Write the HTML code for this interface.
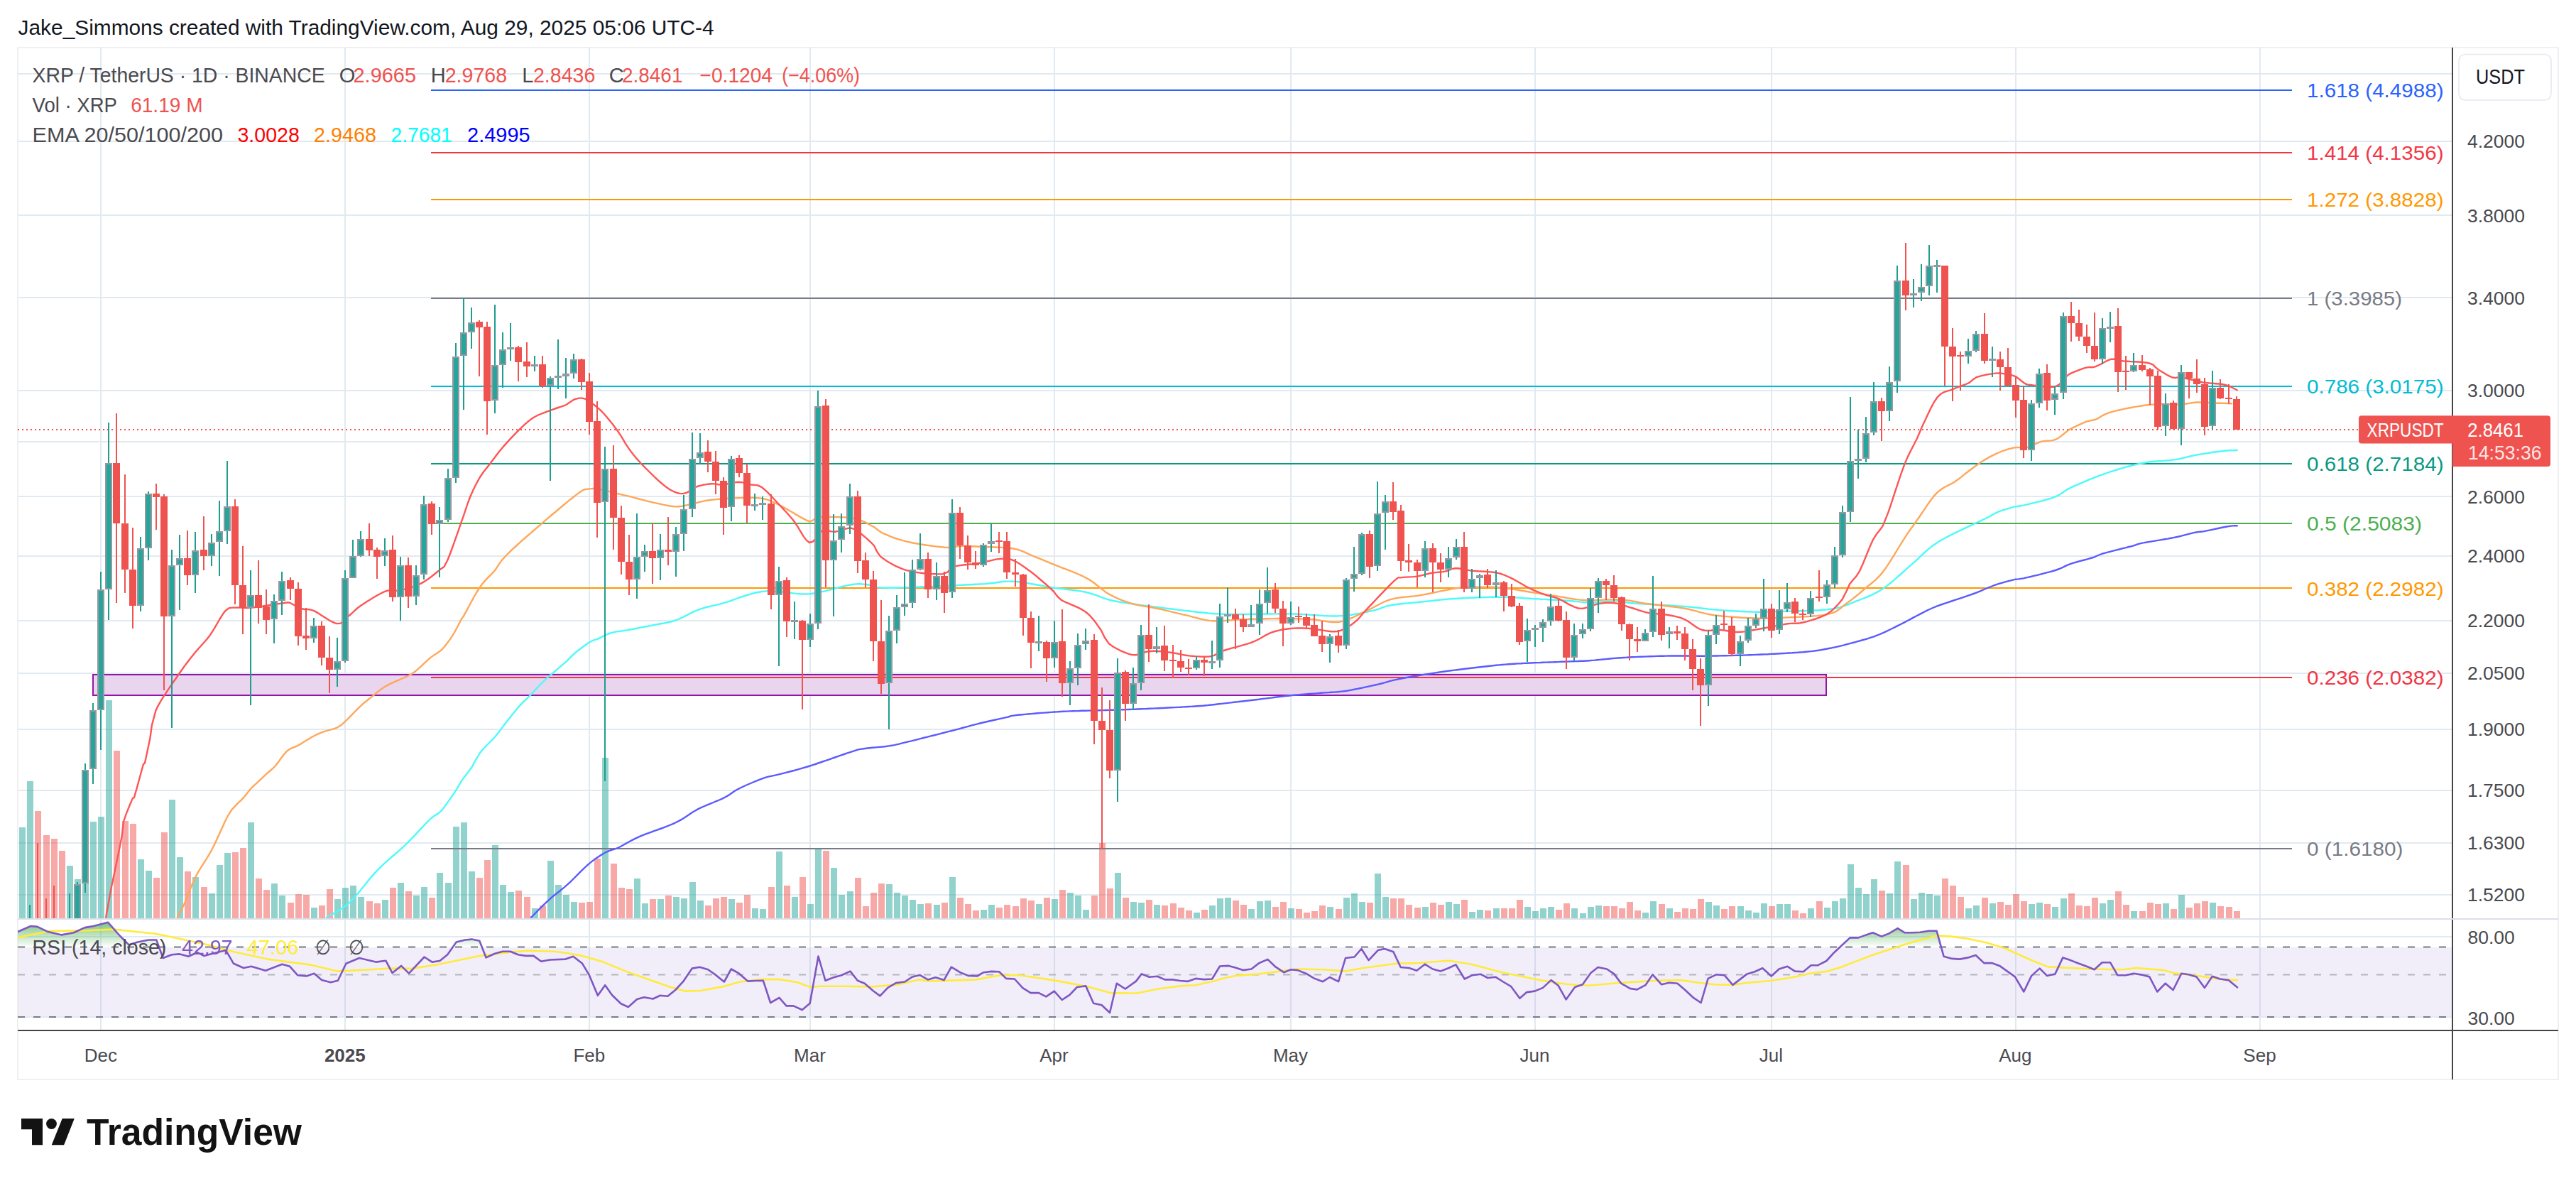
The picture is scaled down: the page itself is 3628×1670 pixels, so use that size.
<!DOCTYPE html><html><head><meta charset="utf-8"><title>XRPUSDT chart</title><style>html,body{margin:0;padding:0;background:#fff;}body{width:3628px;height:1670px;overflow:hidden;}svg{display:block;}</style></head><body><svg width="3628" height="1670" viewBox="0 0 3628 1670" font-family='"Liberation Sans", sans-serif'>
<rect width="3628" height="1670" fill="#ffffff"/>
<defs><clipPath id="main"><rect x="25" y="67" width="3428" height="1226"/></clipPath><clipPath id="rsi"><rect x="25" y="1295" width="3428" height="155"/></clipPath><linearGradient id="gfill" gradientUnits="userSpaceOnUse" x1="0" y1="1296" x2="0" y2="1334"><stop offset="0" stop-color="#4caf50" stop-opacity="0.78"/><stop offset="1" stop-color="#4caf50" stop-opacity="0"/></linearGradient></defs>
<text x="25.6" y="48.9" font-size="29" fill="#131722" textLength="980" lengthAdjust="spacingAndGlyphs">Jake_Simmons created with TradingView.com, Aug 29, 2025 05:06 UTC-4</text>
<rect x="25" y="67" width="3578" height="1453" fill="none" stroke="#f0f0f2" stroke-width="2" shape-rendering="crispEdges"/>
<g fill="#e1eaf1" shape-rendering="crispEdges">
<rect x="25" y="103" width="3429" height="2"/>
<rect x="25" y="198" width="3429" height="2"/>
<rect x="25" y="302" width="3429" height="2"/>
<rect x="25" y="418" width="3429" height="2"/>
<rect x="25" y="549" width="3429" height="2"/>
<rect x="25" y="621" width="3429" height="2"/>
<rect x="25" y="698" width="3429" height="2"/>
<rect x="25" y="782" width="3429" height="2"/>
<rect x="25" y="873" width="3429" height="2"/>
<rect x="25" y="947" width="3429" height="2"/>
<rect x="25" y="1026" width="3429" height="2"/>
<rect x="25" y="1112" width="3429" height="2"/>
<rect x="25" y="1186" width="3429" height="2"/>
<rect x="25" y="1259" width="3429" height="2"/>
<rect x="25" y="1318" width="3429" height="2"/>
<rect x="25" y="1431" width="3429" height="2"/>
<rect x="141" y="67" width="2" height="1384"/>
<rect x="485" y="67" width="2" height="1384"/>
<rect x="829" y="67" width="2" height="1384"/>
<rect x="1140" y="67" width="2" height="1384"/>
<rect x="1484" y="67" width="2" height="1384"/>
<rect x="1817" y="67" width="2" height="1384"/>
<rect x="2161" y="67" width="2" height="1384"/>
<rect x="2494" y="67" width="2" height="1384"/>
<rect x="2838" y="67" width="2" height="1384"/>
<rect x="3182" y="67" width="2" height="1384"/>
</g>
<g clip-path="url(#main)">
<g shape-rendering="crispEdges">
<rect x="27" y="1165" width="9" height="128" fill="rgba(38,166,154,0.5)"/>
<rect x="38" y="1100" width="9" height="193" fill="rgba(38,166,154,0.5)"/>
<rect x="49" y="1142" width="9" height="151" fill="rgba(239,83,80,0.5)"/>
<rect x="61" y="1176" width="9" height="117" fill="rgba(239,83,80,0.5)"/>
<rect x="72" y="1181" width="9" height="112" fill="rgba(239,83,80,0.5)"/>
<rect x="83" y="1198" width="9" height="95" fill="rgba(239,83,80,0.5)"/>
<rect x="94" y="1219" width="9" height="74" fill="rgba(38,166,154,0.5)"/>
<rect x="105" y="1238" width="9" height="55" fill="rgba(38,166,154,0.5)"/>
<rect x="116" y="1120" width="9" height="173" fill="rgba(38,166,154,0.5)"/>
<rect x="127" y="1157" width="9" height="136" fill="rgba(38,166,154,0.5)"/>
<rect x="138" y="1150" width="9" height="143" fill="rgba(38,166,154,0.5)"/>
<rect x="149" y="986" width="9" height="307" fill="rgba(38,166,154,0.5)"/>
<rect x="160" y="1057" width="9" height="236" fill="rgba(239,83,80,0.5)"/>
<rect x="172" y="1156" width="9" height="137" fill="rgba(239,83,80,0.5)"/>
<rect x="183" y="1160" width="9" height="133" fill="rgba(239,83,80,0.5)"/>
<rect x="194" y="1210" width="9" height="83" fill="rgba(38,166,154,0.5)"/>
<rect x="205" y="1226" width="9" height="67" fill="rgba(38,166,154,0.5)"/>
<rect x="216" y="1236" width="9" height="57" fill="rgba(239,83,80,0.5)"/>
<rect x="227" y="1172" width="9" height="121" fill="rgba(239,83,80,0.5)"/>
<rect x="238" y="1126" width="9" height="167" fill="rgba(38,166,154,0.5)"/>
<rect x="249" y="1207" width="9" height="86" fill="rgba(38,166,154,0.5)"/>
<rect x="260" y="1227" width="9" height="66" fill="rgba(239,83,80,0.5)"/>
<rect x="271" y="1235" width="9" height="58" fill="rgba(38,166,154,0.5)"/>
<rect x="283" y="1249" width="9" height="44" fill="rgba(239,83,80,0.5)"/>
<rect x="294" y="1258" width="9" height="35" fill="rgba(38,166,154,0.5)"/>
<rect x="305" y="1218" width="9" height="75" fill="rgba(38,166,154,0.5)"/>
<rect x="316" y="1201" width="9" height="92" fill="rgba(38,166,154,0.5)"/>
<rect x="327" y="1200" width="9" height="93" fill="rgba(239,83,80,0.5)"/>
<rect x="338" y="1194" width="9" height="99" fill="rgba(239,83,80,0.5)"/>
<rect x="349" y="1158" width="9" height="135" fill="rgba(38,166,154,0.5)"/>
<rect x="360" y="1237" width="9" height="56" fill="rgba(239,83,80,0.5)"/>
<rect x="371" y="1253" width="9" height="40" fill="rgba(239,83,80,0.5)"/>
<rect x="382" y="1244" width="9" height="49" fill="rgba(38,166,154,0.5)"/>
<rect x="393" y="1261" width="9" height="32" fill="rgba(38,166,154,0.5)"/>
<rect x="405" y="1271" width="9" height="22" fill="rgba(239,83,80,0.5)"/>
<rect x="416" y="1259" width="9" height="34" fill="rgba(239,83,80,0.5)"/>
<rect x="427" y="1260" width="9" height="33" fill="rgba(239,83,80,0.5)"/>
<rect x="438" y="1278" width="9" height="15" fill="rgba(38,166,154,0.5)"/>
<rect x="449" y="1275" width="9" height="18" fill="rgba(239,83,80,0.5)"/>
<rect x="460" y="1252" width="9" height="41" fill="rgba(239,83,80,0.5)"/>
<rect x="471" y="1266" width="9" height="27" fill="rgba(38,166,154,0.5)"/>
<rect x="482" y="1250" width="9" height="43" fill="rgba(38,166,154,0.5)"/>
<rect x="493" y="1247" width="9" height="46" fill="rgba(38,166,154,0.5)"/>
<rect x="504" y="1263" width="9" height="30" fill="rgba(38,166,154,0.5)"/>
<rect x="516" y="1269" width="9" height="24" fill="rgba(239,83,80,0.5)"/>
<rect x="527" y="1272" width="9" height="21" fill="rgba(239,83,80,0.5)"/>
<rect x="538" y="1267" width="9" height="26" fill="rgba(38,166,154,0.5)"/>
<rect x="549" y="1250" width="9" height="43" fill="rgba(239,83,80,0.5)"/>
<rect x="560" y="1243" width="9" height="50" fill="rgba(38,166,154,0.5)"/>
<rect x="571" y="1255" width="9" height="38" fill="rgba(239,83,80,0.5)"/>
<rect x="582" y="1261" width="9" height="32" fill="rgba(38,166,154,0.5)"/>
<rect x="593" y="1249" width="9" height="44" fill="rgba(38,166,154,0.5)"/>
<rect x="604" y="1264" width="9" height="29" fill="rgba(239,83,80,0.5)"/>
<rect x="615" y="1229" width="9" height="64" fill="rgba(38,166,154,0.5)"/>
<rect x="627" y="1243" width="9" height="50" fill="rgba(38,166,154,0.5)"/>
<rect x="638" y="1164" width="9" height="129" fill="rgba(38,166,154,0.5)"/>
<rect x="649" y="1158" width="9" height="135" fill="rgba(38,166,154,0.5)"/>
<rect x="660" y="1227" width="9" height="66" fill="rgba(38,166,154,0.5)"/>
<rect x="671" y="1236" width="9" height="57" fill="rgba(239,83,80,0.5)"/>
<rect x="682" y="1211" width="9" height="82" fill="rgba(239,83,80,0.5)"/>
<rect x="693" y="1190" width="9" height="103" fill="rgba(38,166,154,0.5)"/>
<rect x="704" y="1246" width="9" height="47" fill="rgba(38,166,154,0.5)"/>
<rect x="715" y="1256" width="9" height="37" fill="rgba(38,166,154,0.5)"/>
<rect x="726" y="1254" width="9" height="39" fill="rgba(239,83,80,0.5)"/>
<rect x="738" y="1263" width="9" height="30" fill="rgba(239,83,80,0.5)"/>
<rect x="749" y="1279" width="9" height="14" fill="rgba(38,166,154,0.5)"/>
<rect x="760" y="1275" width="9" height="18" fill="rgba(239,83,80,0.5)"/>
<rect x="771" y="1212" width="9" height="81" fill="rgba(38,166,154,0.5)"/>
<rect x="782" y="1246" width="9" height="47" fill="rgba(38,166,154,0.5)"/>
<rect x="793" y="1260" width="9" height="33" fill="rgba(38,166,154,0.5)"/>
<rect x="804" y="1270" width="9" height="23" fill="rgba(38,166,154,0.5)"/>
<rect x="815" y="1271" width="9" height="22" fill="rgba(239,83,80,0.5)"/>
<rect x="826" y="1270" width="9" height="23" fill="rgba(239,83,80,0.5)"/>
<rect x="837" y="1209" width="9" height="84" fill="rgba(239,83,80,0.5)"/>
<rect x="848" y="1067" width="9" height="226" fill="rgba(38,166,154,0.5)"/>
<rect x="860" y="1216" width="9" height="77" fill="rgba(239,83,80,0.5)"/>
<rect x="871" y="1250" width="9" height="43" fill="rgba(239,83,80,0.5)"/>
<rect x="882" y="1252" width="9" height="41" fill="rgba(239,83,80,0.5)"/>
<rect x="893" y="1237" width="9" height="56" fill="rgba(38,166,154,0.5)"/>
<rect x="904" y="1272" width="9" height="21" fill="rgba(38,166,154,0.5)"/>
<rect x="915" y="1266" width="9" height="27" fill="rgba(239,83,80,0.5)"/>
<rect x="926" y="1266" width="9" height="27" fill="rgba(38,166,154,0.5)"/>
<rect x="937" y="1261" width="9" height="32" fill="rgba(239,83,80,0.5)"/>
<rect x="948" y="1263" width="9" height="30" fill="rgba(38,166,154,0.5)"/>
<rect x="959" y="1265" width="9" height="28" fill="rgba(38,166,154,0.5)"/>
<rect x="971" y="1242" width="9" height="51" fill="rgba(38,166,154,0.5)"/>
<rect x="982" y="1268" width="9" height="25" fill="rgba(38,166,154,0.5)"/>
<rect x="993" y="1275" width="9" height="18" fill="rgba(239,83,80,0.5)"/>
<rect x="1004" y="1265" width="9" height="28" fill="rgba(239,83,80,0.5)"/>
<rect x="1015" y="1263" width="9" height="30" fill="rgba(239,83,80,0.5)"/>
<rect x="1026" y="1266" width="9" height="27" fill="rgba(38,166,154,0.5)"/>
<rect x="1037" y="1271" width="9" height="22" fill="rgba(239,83,80,0.5)"/>
<rect x="1048" y="1260" width="9" height="33" fill="rgba(239,83,80,0.5)"/>
<rect x="1059" y="1279" width="9" height="14" fill="rgba(38,166,154,0.5)"/>
<rect x="1070" y="1280" width="9" height="13" fill="rgba(38,166,154,0.5)"/>
<rect x="1082" y="1249" width="9" height="44" fill="rgba(239,83,80,0.5)"/>
<rect x="1093" y="1199" width="9" height="94" fill="rgba(38,166,154,0.5)"/>
<rect x="1104" y="1247" width="9" height="46" fill="rgba(239,83,80,0.5)"/>
<rect x="1115" y="1263" width="9" height="30" fill="rgba(38,166,154,0.5)"/>
<rect x="1126" y="1235" width="9" height="58" fill="rgba(239,83,80,0.5)"/>
<rect x="1137" y="1273" width="9" height="20" fill="rgba(38,166,154,0.5)"/>
<rect x="1148" y="1194" width="9" height="99" fill="rgba(38,166,154,0.5)"/>
<rect x="1159" y="1198" width="9" height="95" fill="rgba(239,83,80,0.5)"/>
<rect x="1170" y="1222" width="9" height="71" fill="rgba(38,166,154,0.5)"/>
<rect x="1181" y="1260" width="9" height="33" fill="rgba(38,166,154,0.5)"/>
<rect x="1193" y="1255" width="9" height="38" fill="rgba(38,166,154,0.5)"/>
<rect x="1204" y="1236" width="9" height="57" fill="rgba(239,83,80,0.5)"/>
<rect x="1215" y="1276" width="9" height="17" fill="rgba(239,83,80,0.5)"/>
<rect x="1226" y="1257" width="9" height="36" fill="rgba(239,83,80,0.5)"/>
<rect x="1237" y="1244" width="9" height="49" fill="rgba(239,83,80,0.5)"/>
<rect x="1248" y="1245" width="9" height="48" fill="rgba(38,166,154,0.5)"/>
<rect x="1259" y="1257" width="9" height="36" fill="rgba(38,166,154,0.5)"/>
<rect x="1270" y="1261" width="9" height="32" fill="rgba(38,166,154,0.5)"/>
<rect x="1281" y="1267" width="9" height="26" fill="rgba(38,166,154,0.5)"/>
<rect x="1292" y="1273" width="9" height="20" fill="rgba(38,166,154,0.5)"/>
<rect x="1303" y="1272" width="9" height="21" fill="rgba(239,83,80,0.5)"/>
<rect x="1315" y="1274" width="9" height="19" fill="rgba(38,166,154,0.5)"/>
<rect x="1326" y="1271" width="9" height="22" fill="rgba(239,83,80,0.5)"/>
<rect x="1337" y="1235" width="9" height="58" fill="rgba(38,166,154,0.5)"/>
<rect x="1348" y="1264" width="9" height="29" fill="rgba(239,83,80,0.5)"/>
<rect x="1359" y="1273" width="9" height="20" fill="rgba(239,83,80,0.5)"/>
<rect x="1370" y="1282" width="9" height="11" fill="rgba(239,83,80,0.5)"/>
<rect x="1381" y="1281" width="9" height="12" fill="rgba(38,166,154,0.5)"/>
<rect x="1392" y="1274" width="9" height="19" fill="rgba(38,166,154,0.5)"/>
<rect x="1403" y="1278" width="9" height="15" fill="rgba(239,83,80,0.5)"/>
<rect x="1414" y="1274" width="9" height="19" fill="rgba(239,83,80,0.5)"/>
<rect x="1426" y="1276" width="9" height="17" fill="rgba(239,83,80,0.5)"/>
<rect x="1437" y="1265" width="9" height="28" fill="rgba(239,83,80,0.5)"/>
<rect x="1448" y="1268" width="9" height="25" fill="rgba(239,83,80,0.5)"/>
<rect x="1459" y="1273" width="9" height="20" fill="rgba(38,166,154,0.5)"/>
<rect x="1470" y="1264" width="9" height="29" fill="rgba(239,83,80,0.5)"/>
<rect x="1481" y="1266" width="9" height="27" fill="rgba(38,166,154,0.5)"/>
<rect x="1492" y="1253" width="9" height="40" fill="rgba(239,83,80,0.5)"/>
<rect x="1503" y="1257" width="9" height="36" fill="rgba(38,166,154,0.5)"/>
<rect x="1514" y="1261" width="9" height="32" fill="rgba(38,166,154,0.5)"/>
<rect x="1525" y="1281" width="9" height="12" fill="rgba(38,166,154,0.5)"/>
<rect x="1537" y="1261" width="9" height="32" fill="rgba(239,83,80,0.5)"/>
<rect x="1548" y="1187" width="9" height="106" fill="rgba(239,83,80,0.5)"/>
<rect x="1559" y="1251" width="9" height="42" fill="rgba(239,83,80,0.5)"/>
<rect x="1570" y="1229" width="9" height="64" fill="rgba(38,166,154,0.5)"/>
<rect x="1581" y="1264" width="9" height="29" fill="rgba(239,83,80,0.5)"/>
<rect x="1592" y="1270" width="9" height="23" fill="rgba(38,166,154,0.5)"/>
<rect x="1603" y="1271" width="9" height="22" fill="rgba(38,166,154,0.5)"/>
<rect x="1614" y="1267" width="9" height="26" fill="rgba(239,83,80,0.5)"/>
<rect x="1625" y="1274" width="9" height="19" fill="rgba(38,166,154,0.5)"/>
<rect x="1636" y="1275" width="9" height="18" fill="rgba(239,83,80,0.5)"/>
<rect x="1648" y="1272" width="9" height="21" fill="rgba(239,83,80,0.5)"/>
<rect x="1659" y="1278" width="9" height="15" fill="rgba(239,83,80,0.5)"/>
<rect x="1670" y="1282" width="9" height="11" fill="rgba(239,83,80,0.5)"/>
<rect x="1681" y="1285" width="9" height="8" fill="rgba(38,166,154,0.5)"/>
<rect x="1692" y="1281" width="9" height="12" fill="rgba(239,83,80,0.5)"/>
<rect x="1703" y="1275" width="9" height="18" fill="rgba(38,166,154,0.5)"/>
<rect x="1714" y="1265" width="9" height="28" fill="rgba(38,166,154,0.5)"/>
<rect x="1725" y="1264" width="9" height="29" fill="rgba(38,166,154,0.5)"/>
<rect x="1736" y="1268" width="9" height="25" fill="rgba(239,83,80,0.5)"/>
<rect x="1747" y="1274" width="9" height="19" fill="rgba(239,83,80,0.5)"/>
<rect x="1758" y="1280" width="9" height="13" fill="rgba(38,166,154,0.5)"/>
<rect x="1770" y="1269" width="9" height="24" fill="rgba(38,166,154,0.5)"/>
<rect x="1781" y="1268" width="9" height="25" fill="rgba(38,166,154,0.5)"/>
<rect x="1792" y="1277" width="9" height="16" fill="rgba(239,83,80,0.5)"/>
<rect x="1803" y="1270" width="9" height="23" fill="rgba(239,83,80,0.5)"/>
<rect x="1814" y="1279" width="9" height="14" fill="rgba(38,166,154,0.5)"/>
<rect x="1825" y="1280" width="9" height="13" fill="rgba(239,83,80,0.5)"/>
<rect x="1836" y="1285" width="9" height="8" fill="rgba(239,83,80,0.5)"/>
<rect x="1847" y="1283" width="9" height="10" fill="rgba(239,83,80,0.5)"/>
<rect x="1858" y="1275" width="9" height="18" fill="rgba(239,83,80,0.5)"/>
<rect x="1869" y="1277" width="9" height="16" fill="rgba(38,166,154,0.5)"/>
<rect x="1881" y="1280" width="9" height="13" fill="rgba(239,83,80,0.5)"/>
<rect x="1892" y="1264" width="9" height="29" fill="rgba(38,166,154,0.5)"/>
<rect x="1903" y="1258" width="9" height="35" fill="rgba(38,166,154,0.5)"/>
<rect x="1914" y="1270" width="9" height="23" fill="rgba(38,166,154,0.5)"/>
<rect x="1925" y="1271" width="9" height="22" fill="rgba(239,83,80,0.5)"/>
<rect x="1936" y="1230" width="9" height="63" fill="rgba(38,166,154,0.5)"/>
<rect x="1947" y="1263" width="9" height="30" fill="rgba(38,166,154,0.5)"/>
<rect x="1958" y="1265" width="9" height="28" fill="rgba(239,83,80,0.5)"/>
<rect x="1969" y="1265" width="9" height="28" fill="rgba(239,83,80,0.5)"/>
<rect x="1980" y="1274" width="9" height="19" fill="rgba(239,83,80,0.5)"/>
<rect x="1992" y="1278" width="9" height="15" fill="rgba(239,83,80,0.5)"/>
<rect x="2003" y="1277" width="9" height="16" fill="rgba(38,166,154,0.5)"/>
<rect x="2014" y="1271" width="9" height="22" fill="rgba(239,83,80,0.5)"/>
<rect x="2025" y="1274" width="9" height="19" fill="rgba(239,83,80,0.5)"/>
<rect x="2036" y="1270" width="9" height="23" fill="rgba(38,166,154,0.5)"/>
<rect x="2047" y="1273" width="9" height="20" fill="rgba(38,166,154,0.5)"/>
<rect x="2058" y="1267" width="9" height="26" fill="rgba(239,83,80,0.5)"/>
<rect x="2069" y="1284" width="9" height="9" fill="rgba(38,166,154,0.5)"/>
<rect x="2080" y="1281" width="9" height="12" fill="rgba(38,166,154,0.5)"/>
<rect x="2091" y="1282" width="9" height="11" fill="rgba(239,83,80,0.5)"/>
<rect x="2103" y="1279" width="9" height="14" fill="rgba(38,166,154,0.5)"/>
<rect x="2114" y="1279" width="9" height="14" fill="rgba(239,83,80,0.5)"/>
<rect x="2125" y="1279" width="9" height="14" fill="rgba(239,83,80,0.5)"/>
<rect x="2136" y="1267" width="9" height="26" fill="rgba(239,83,80,0.5)"/>
<rect x="2147" y="1277" width="9" height="16" fill="rgba(38,166,154,0.5)"/>
<rect x="2158" y="1283" width="9" height="10" fill="rgba(38,166,154,0.5)"/>
<rect x="2169" y="1279" width="9" height="14" fill="rgba(38,166,154,0.5)"/>
<rect x="2180" y="1277" width="9" height="16" fill="rgba(38,166,154,0.5)"/>
<rect x="2191" y="1281" width="9" height="12" fill="rgba(239,83,80,0.5)"/>
<rect x="2202" y="1272" width="9" height="21" fill="rgba(239,83,80,0.5)"/>
<rect x="2213" y="1279" width="9" height="14" fill="rgba(38,166,154,0.5)"/>
<rect x="2225" y="1286" width="9" height="7" fill="rgba(38,166,154,0.5)"/>
<rect x="2236" y="1277" width="9" height="16" fill="rgba(38,166,154,0.5)"/>
<rect x="2247" y="1275" width="9" height="18" fill="rgba(38,166,154,0.5)"/>
<rect x="2258" y="1276" width="9" height="17" fill="rgba(239,83,80,0.5)"/>
<rect x="2269" y="1276" width="9" height="17" fill="rgba(239,83,80,0.5)"/>
<rect x="2280" y="1279" width="9" height="14" fill="rgba(239,83,80,0.5)"/>
<rect x="2291" y="1270" width="9" height="23" fill="rgba(239,83,80,0.5)"/>
<rect x="2302" y="1282" width="9" height="11" fill="rgba(239,83,80,0.5)"/>
<rect x="2313" y="1285" width="9" height="8" fill="rgba(38,166,154,0.5)"/>
<rect x="2324" y="1269" width="9" height="24" fill="rgba(38,166,154,0.5)"/>
<rect x="2336" y="1273" width="9" height="20" fill="rgba(239,83,80,0.5)"/>
<rect x="2347" y="1279" width="9" height="14" fill="rgba(38,166,154,0.5)"/>
<rect x="2358" y="1284" width="9" height="9" fill="rgba(239,83,80,0.5)"/>
<rect x="2369" y="1279" width="9" height="14" fill="rgba(239,83,80,0.5)"/>
<rect x="2380" y="1280" width="9" height="13" fill="rgba(239,83,80,0.5)"/>
<rect x="2391" y="1266" width="9" height="27" fill="rgba(239,83,80,0.5)"/>
<rect x="2402" y="1270" width="9" height="23" fill="rgba(38,166,154,0.5)"/>
<rect x="2413" y="1275" width="9" height="18" fill="rgba(38,166,154,0.5)"/>
<rect x="2424" y="1280" width="9" height="13" fill="rgba(239,83,80,0.5)"/>
<rect x="2435" y="1276" width="9" height="17" fill="rgba(239,83,80,0.5)"/>
<rect x="2447" y="1276" width="9" height="17" fill="rgba(38,166,154,0.5)"/>
<rect x="2458" y="1282" width="9" height="11" fill="rgba(38,166,154,0.5)"/>
<rect x="2469" y="1285" width="9" height="8" fill="rgba(38,166,154,0.5)"/>
<rect x="2480" y="1272" width="9" height="21" fill="rgba(38,166,154,0.5)"/>
<rect x="2491" y="1276" width="9" height="17" fill="rgba(239,83,80,0.5)"/>
<rect x="2502" y="1273" width="9" height="20" fill="rgba(38,166,154,0.5)"/>
<rect x="2513" y="1273" width="9" height="20" fill="rgba(38,166,154,0.5)"/>
<rect x="2524" y="1282" width="9" height="11" fill="rgba(239,83,80,0.5)"/>
<rect x="2535" y="1286" width="9" height="7" fill="rgba(239,83,80,0.5)"/>
<rect x="2546" y="1279" width="9" height="14" fill="rgba(38,166,154,0.5)"/>
<rect x="2558" y="1269" width="9" height="24" fill="rgba(239,83,80,0.5)"/>
<rect x="2569" y="1278" width="9" height="15" fill="rgba(38,166,154,0.5)"/>
<rect x="2580" y="1269" width="9" height="24" fill="rgba(38,166,154,0.5)"/>
<rect x="2591" y="1265" width="9" height="28" fill="rgba(38,166,154,0.5)"/>
<rect x="2602" y="1217" width="9" height="76" fill="rgba(38,166,154,0.5)"/>
<rect x="2613" y="1250" width="9" height="43" fill="rgba(38,166,154,0.5)"/>
<rect x="2624" y="1259" width="9" height="34" fill="rgba(38,166,154,0.5)"/>
<rect x="2635" y="1238" width="9" height="55" fill="rgba(38,166,154,0.5)"/>
<rect x="2646" y="1254" width="9" height="39" fill="rgba(239,83,80,0.5)"/>
<rect x="2657" y="1258" width="9" height="35" fill="rgba(38,166,154,0.5)"/>
<rect x="2668" y="1213" width="9" height="80" fill="rgba(38,166,154,0.5)"/>
<rect x="2680" y="1218" width="9" height="75" fill="rgba(239,83,80,0.5)"/>
<rect x="2691" y="1266" width="9" height="27" fill="rgba(38,166,154,0.5)"/>
<rect x="2702" y="1257" width="9" height="36" fill="rgba(38,166,154,0.5)"/>
<rect x="2713" y="1259" width="9" height="34" fill="rgba(38,166,154,0.5)"/>
<rect x="2724" y="1261" width="9" height="32" fill="rgba(38,166,154,0.5)"/>
<rect x="2735" y="1237" width="9" height="56" fill="rgba(239,83,80,0.5)"/>
<rect x="2746" y="1247" width="9" height="46" fill="rgba(239,83,80,0.5)"/>
<rect x="2757" y="1263" width="9" height="30" fill="rgba(239,83,80,0.5)"/>
<rect x="2768" y="1279" width="9" height="14" fill="rgba(38,166,154,0.5)"/>
<rect x="2779" y="1275" width="9" height="18" fill="rgba(38,166,154,0.5)"/>
<rect x="2791" y="1264" width="9" height="29" fill="rgba(239,83,80,0.5)"/>
<rect x="2802" y="1272" width="9" height="21" fill="rgba(38,166,154,0.5)"/>
<rect x="2813" y="1270" width="9" height="23" fill="rgba(239,83,80,0.5)"/>
<rect x="2824" y="1274" width="9" height="19" fill="rgba(239,83,80,0.5)"/>
<rect x="2835" y="1259" width="9" height="34" fill="rgba(239,83,80,0.5)"/>
<rect x="2846" y="1269" width="9" height="24" fill="rgba(239,83,80,0.5)"/>
<rect x="2857" y="1273" width="9" height="20" fill="rgba(38,166,154,0.5)"/>
<rect x="2868" y="1271" width="9" height="22" fill="rgba(38,166,154,0.5)"/>
<rect x="2879" y="1273" width="9" height="20" fill="rgba(239,83,80,0.5)"/>
<rect x="2890" y="1277" width="9" height="16" fill="rgba(38,166,154,0.5)"/>
<rect x="2902" y="1265" width="9" height="28" fill="rgba(38,166,154,0.5)"/>
<rect x="2913" y="1258" width="9" height="35" fill="rgba(239,83,80,0.5)"/>
<rect x="2924" y="1275" width="9" height="18" fill="rgba(239,83,80,0.5)"/>
<rect x="2935" y="1276" width="9" height="17" fill="rgba(239,83,80,0.5)"/>
<rect x="2946" y="1264" width="9" height="29" fill="rgba(239,83,80,0.5)"/>
<rect x="2957" y="1272" width="9" height="21" fill="rgba(38,166,154,0.5)"/>
<rect x="2968" y="1267" width="9" height="26" fill="rgba(38,166,154,0.5)"/>
<rect x="2979" y="1255" width="9" height="38" fill="rgba(239,83,80,0.5)"/>
<rect x="2990" y="1274" width="9" height="19" fill="rgba(239,83,80,0.5)"/>
<rect x="3001" y="1283" width="9" height="10" fill="rgba(38,166,154,0.5)"/>
<rect x="3013" y="1283" width="9" height="10" fill="rgba(239,83,80,0.5)"/>
<rect x="3024" y="1271" width="9" height="22" fill="rgba(239,83,80,0.5)"/>
<rect x="3035" y="1273" width="9" height="20" fill="rgba(239,83,80,0.5)"/>
<rect x="3046" y="1272" width="9" height="21" fill="rgba(38,166,154,0.5)"/>
<rect x="3057" y="1280" width="9" height="13" fill="rgba(239,83,80,0.5)"/>
<rect x="3068" y="1260" width="9" height="33" fill="rgba(38,166,154,0.5)"/>
<rect x="3079" y="1278" width="9" height="15" fill="rgba(239,83,80,0.5)"/>
<rect x="3090" y="1272" width="9" height="21" fill="rgba(239,83,80,0.5)"/>
<rect x="3101" y="1269" width="9" height="24" fill="rgba(239,83,80,0.5)"/>
<rect x="3112" y="1271" width="9" height="22" fill="rgba(38,166,154,0.5)"/>
<rect x="3123" y="1276" width="9" height="17" fill="rgba(239,83,80,0.5)"/>
<rect x="3135" y="1277" width="9" height="16" fill="rgba(239,83,80,0.5)"/>
<rect x="3146" y="1283" width="9" height="10" fill="rgba(239,83,80,0.5)"/>
</g>
<rect x="131" y="950" width="2441" height="29" fill="#ead5ef" stroke="#9215a8" stroke-width="2"/>
<rect x="607" y="126" width="2621" height="2" fill="#2962ff" shape-rendering="crispEdges"/>
<rect x="607" y="214" width="2621" height="2" fill="#f23645" shape-rendering="crispEdges"/>
<rect x="607" y="280" width="2621" height="2" fill="#ff9800" shape-rendering="crispEdges"/>
<rect x="607" y="419" width="2621" height="2" fill="#787b86" shape-rendering="crispEdges"/>
<rect x="607" y="543" width="2621" height="2" fill="#00bcd4" shape-rendering="crispEdges"/>
<rect x="607" y="652" width="2621" height="2" fill="#089981" shape-rendering="crispEdges"/>
<rect x="607" y="736" width="2621" height="2" fill="#4caf50" shape-rendering="crispEdges"/>
<rect x="607" y="827" width="2621" height="2" fill="#ff9800" shape-rendering="crispEdges"/>
<rect x="607" y="953" width="2621" height="2" fill="#f23645" shape-rendering="crispEdges"/>
<rect x="607" y="1194" width="2621" height="2" fill="#787b86" shape-rendering="crispEdges"/>
<line x1="25" y1="604.9" x2="3322" y2="604.9" stroke="#ef5350" stroke-width="2" stroke-dasharray="2 4"/>
<polyline points="748.1,1291.7 751,1288.9 754.9,1284.9 759.6,1280.2 764.6,1275.2 769.6,1270.4 774.2,1266.1 778.3,1262.5 782.3,1259.3 786.3,1256.2 790.3,1253 794.5,1249.6 799,1245.7 803.2,1241.8 807.6,1237.5 812.2,1232.9 816.9,1228.2 821.5,1223.7 825.9,1219.5 830,1215.9 835.3,1211.6 840.3,1208 845,1204.9 849.5,1202.2 853.7,1199.8 858.2,1197.8 862,1196.6 865.9,1195.5 871,1193.5 874.4,1191.8 878,1189.8 881.9,1187.6 886,1185.3 890.5,1182.9 895.5,1180.4 900.9,1177.9 904.4,1176.4 908.2,1174.9 912.3,1173.4 916.6,1171.8 921.1,1170.2 925.6,1168.6 930.1,1167 934.6,1165.3 938.9,1163.7 943.1,1162 947,1160.4 950.6,1158.8 955.4,1156.4 959.8,1153.9 963.8,1151.4 967.5,1148.9 971.2,1146.5 974.9,1144 978.7,1141.7 982.9,1139.4 986.9,1137.4 991.2,1135.5 995.6,1133.6 1000,1131.8 1004.5,1130 1008.8,1128.2 1012.9,1126.5 1016.7,1124.8 1020.1,1123.2 1025.9,1119.9 1030.2,1116.9 1034.4,1114 1040,1110.8 1043.7,1109 1047.9,1107 1052.4,1105 1057.1,1103 1061.8,1101 1066.4,1099.1 1070.8,1097.4 1074.8,1095.9 1079.4,1094.4 1083.3,1093.4 1087,1092.6 1090.8,1091.8 1095,1090.9 1100,1089.7 1103.3,1088.8 1106.8,1087.9 1110.5,1087 1114.2,1086 1118.2,1085 1122.3,1083.8 1126.5,1082.7 1131,1081.4 1135.7,1080 1140.5,1078.5 1144.2,1077.3 1148.3,1076 1152.6,1074.5 1157.1,1073 1161.7,1071.4 1166.5,1069.8 1171.2,1068.1 1175.9,1066.5 1180.4,1064.9 1184.8,1063.4 1188.9,1062 1192.6,1060.7 1196,1059.6 1199,1058.6 1205.8,1056.4 1209.1,1055.4 1211.7,1054.9 1216.4,1054.2 1220,1053.7 1224.2,1053.2 1228.8,1052.8 1233.6,1052.4 1238.5,1051.9 1243.2,1051.5 1247.7,1051 1251.8,1050.4 1256.1,1049.7 1259.5,1049.1 1262.7,1048.4 1266.2,1047.6 1270.7,1046.4 1277,1044.9 1280.2,1044.1 1283.7,1043.3 1287.6,1042.3 1291.8,1041.3 1296.2,1040.2 1300.7,1039 1305.4,1037.9 1310.1,1036.7 1314.9,1035.5 1319.5,1034.3 1324.1,1033.1 1328.5,1032 1332.7,1030.9 1336.7,1029.9 1340.3,1029 1345.7,1027.6 1350.7,1026.3 1355.3,1025 1359.5,1023.9 1363.6,1022.8 1367.6,1021.7 1371.6,1020.6 1375.7,1019.6 1380,1018.5 1384.1,1017.5 1388.5,1016.5 1392.9,1015.5 1397.4,1014.5 1401.8,1013.5 1406.1,1012.6 1410.2,1011.7 1413.9,1010.9 1417.2,1010.1 1420,1009.5 1423.9,1008.1 1430.6,1007.1 1433.3,1006.8 1436.4,1006.5 1439.9,1006.2 1443.7,1005.9 1447.8,1005.5 1452.1,1005.1 1456.6,1004.7 1461.2,1004.3 1466,1003.9 1470.8,1003.6 1475.6,1003.2 1480.3,1002.9 1485,1002.5 1489.5,1002.3 1493.8,1002 1498,1001.8 1502.3,1001.6 1506.7,1001.4 1511,1001.2 1515.4,1001.1 1519.7,1001 1524.1,1000.8 1528.4,1000.7 1532.7,1000.6 1536.9,1000.5 1541.1,1000.4 1545.3,1000.3 1549.3,1000.2 1553.2,1000.1 1557.1,1000 1561.7,999.9 1566,999.7 1570.1,999.6 1574.1,999.5 1578,999.4 1581.8,999.3 1585.7,999.1 1589.7,999 1593.8,998.9 1598.2,998.7 1602.8,998.5 1607.7,998.3 1611.2,998.1 1615,998 1619,997.8 1623.2,997.6 1627.5,997.4 1631.9,997.2 1636.4,997 1640.9,996.8 1645.4,996.5 1649.8,996.3 1654.2,996.1 1658.5,995.9 1662.7,995.7 1666.6,995.4 1670.4,995.2 1673.9,995 1677.1,994.9 1680,994.7 1686.6,994.3 1690.9,994 1693.9,993.8 1696.7,993.5 1700.4,993.1 1706.1,992.5 1709.3,992.2 1712.8,991.8 1716.6,991.3 1720.6,990.9 1724.8,990.4 1729.1,989.9 1733.6,989.4 1738.1,988.8 1742.7,988.3 1747.2,987.7 1751.7,987.2 1756.1,986.7 1760.4,986.2 1764.5,985.7 1768.8,985.2 1773.1,984.7 1777.4,984.1 1781.7,983.6 1785.9,983.1 1790.1,982.6 1794.3,982 1798.4,981.5 1802.5,981 1806.4,980.6 1810.4,980.1 1814.2,979.7 1817.9,979.3 1822.6,978.8 1827.3,978.4 1831.8,978 1836.3,977.6 1840.6,977.3 1844.8,976.9 1848.9,976.6 1852.8,976.4 1856.5,976.1 1860.1,975.8 1865.6,975.4 1870.6,975.1 1875.2,974.8 1879.5,974.6 1883.5,974.3 1887.5,973.9 1892.7,973.3 1897,972.7 1901.6,971.9 1907.3,970.8 1910.9,970.1 1914.9,969.3 1919.3,968.4 1923.8,967.4 1928.3,966.4 1932.8,965.4 1937,964.5 1940.9,963.6 1945.4,962.5 1949.5,961.4 1953.3,960.3 1957.1,959.2 1961.1,958.2 1965.7,957.1 1969.4,956.3 1973.3,955.6 1977.2,954.8 1981.4,954 1985.7,953.3 1990.2,952.5 1995,951.7 2000,950.9 2003.5,950.3 2006.9,949.8 2010.5,949.2 2014.1,948.6 2017.8,948 2021.7,947.4 2025.6,946.8 2029.8,946.1 2034.1,945.5 2038.7,944.9 2043.5,944.2 2048.5,943.6 2052,943.2 2055.7,942.7 2059.6,942.2 2063.5,941.7 2067.6,941.2 2071.8,940.7 2076,940.2 2080.4,939.7 2084.7,939.2 2089.2,938.7 2093.6,938.2 2098.1,937.7 2102.6,937.3 2107,936.8 2111.4,936.4 2115.8,936 2120.1,935.6 2124.4,935.3 2128.7,935 2133,934.7 2137.5,934.4 2142,934.2 2146.5,933.9 2151.1,933.7 2155.7,933.5 2160.2,933.3 2164.7,933.1 2169.2,933 2173.5,932.8 2177.8,932.6 2182,932.5 2186,932.4 2189.8,932.2 2193.5,932.1 2197,931.9 2200.3,931.8 2206.1,931.6 2211.2,931.4 2215.5,931.2 2219.4,931.1 2223,931 2226.5,930.8 2230.1,930.7 2234,930.5 2238.3,930.2 2242.1,929.9 2245.8,929.6 2249.6,929.2 2253.3,928.9 2257.2,928.5 2261.2,928.1 2265.2,927.7 2269.4,927.3 2273.8,926.9 2278.4,926.5 2283.2,926.2 2286.9,926 2290.7,925.8 2294.7,925.5 2298.8,925.3 2302.9,925.1 2307.2,924.9 2311.5,924.7 2315.9,924.6 2320.3,924.4 2324.7,924.2 2329.1,924.1 2333.6,923.9 2337.9,923.8 2342.2,923.7 2346.5,923.6 2350.7,923.5 2354.9,923.5 2359.1,923.5 2363.4,923.5 2367.6,923.5 2371.8,923.5 2376,923.5 2380.2,923.6 2384.4,923.6 2388.6,923.6 2392.8,923.7 2397.1,923.7 2401.3,923.7 2405.5,923.6 2409.7,923.6 2413.9,923.5 2418.1,923.5 2422.3,923.4 2426.4,923.3 2430.6,923.2 2434.7,923.1 2438.9,923 2443.1,922.9 2447.3,922.8 2451.5,922.7 2455.7,922.6 2460,922.4 2464.3,922.2 2468.6,922.1 2473,921.9 2477,921.7 2481.1,921.5 2485.3,921.4 2489.6,921.2 2493.9,920.9 2498.3,920.7 2502.8,920.5 2507.1,920.3 2511.5,920 2515.8,919.8 2520,919.5 2524.1,919.3 2528.1,919 2531.8,918.8 2535.5,918.5 2538.8,918.3 2542,918 2547.9,917.4 2553,916.9 2557.3,916.3 2561.2,915.8 2564.8,915.1 2568.3,914.5 2572,913.8 2576,913 2580.2,912.2 2584.4,911.3 2588.7,910.3 2592.9,909.3 2597.1,908.3 2601.3,907.2 2605.5,906.1 2609.7,905 2613.9,903.9 2618.1,902.7 2622.4,901.5 2626.6,900.3 2630.8,899.1 2635.1,897.7 2639.3,896.3 2643.5,894.7 2647.8,893 2652.1,891.1 2656.4,889.1 2660.8,887 2665,885 2669.2,882.9 2673.2,880.9 2677,879 2681.7,876.6 2686.1,874.3 2690.2,872.1 2694.2,869.9 2698.3,867.7 2702.4,865.6 2706.3,863.6 2709.9,861.7 2713.5,859.9 2717.4,858 2722,856 2727.7,853.7 2731.1,852.4 2735,851 2739.2,849.6 2743.8,848.1 2748.5,846.5 2753.2,844.9 2758,843.3 2762.6,841.8 2767.1,840.3 2771.2,838.9 2775,837.7 2778.3,836.5 2784.6,834.1 2789.4,832.2 2793.2,830.5 2796.5,829 2800,827.6 2805.3,825.5 2810,823.7 2815.5,821.9 2819.9,820.6 2824.9,819.2 2830,817.9 2834.8,816.6 2838.8,815.7 2842.9,815.4 2849.7,814.4 2852.6,813.7 2856.1,812.9 2860.1,812 2864.5,810.9 2869.2,809.8 2873.9,808.6 2878.6,807.4 2883.2,806.2 2887.5,805.1 2891.4,804 2894.7,803 2900.4,801 2904.6,799.2 2908.1,797.4 2911.8,795.7 2916.5,793.9 2920.2,792.7 2924.4,791.5 2928.9,790.2 2933.5,789 2938,787.8 2942.2,786.6 2946,785.5 2949.1,784.6 2953.7,782.5 2959.9,780 2962.8,779.2 2966.5,778.2 2970.7,777.1 2975.2,775.9 2980,774.7 2984.9,773.5 2989.7,772.2 2994.2,771.1 2998.4,770 3002.1,769.1 3005,768.3 3010.4,766.4 3015.8,764.9 3018.7,764.4 3022.1,763.7 3026,763.1 3030.3,762.4 3034.8,761.6 3039.4,760.9 3044.1,760.1 3048.7,759.3 3053.1,758.6 3057.2,757.8 3060.9,757.1 3066.2,756 3071.3,754.8 3076.1,753.6 3080.7,752.4 3084.8,751.4 3088.6,750.4 3091.9,749.7 3096.6,748.9 3099.2,748.8 3104.3,748.1 3107.7,747.4 3111.8,746.6 3116.5,745.6 3121.4,744.5 3126.3,743.5 3131,742.5 3135.1,741.7 3138.5,741.1 3144.7,740.4 3148.5,740.3 3150.9,740.4" fill="none" stroke="#5b5bff" stroke-width="2.4" stroke-linejoin="round" stroke-linecap="round"/>
<polyline points="459.8,1291.7 462.2,1290.3 465.4,1288.6 469.2,1286.6 473.4,1284.2 478,1281.5 482.7,1278.4 487.4,1274.9 492,1271 496.1,1267 500.3,1262.3 504.7,1257.2 509.2,1251.8 513.7,1246.2 518.3,1240.6 522.8,1235.1 527.3,1229.9 531.8,1225.1 536.3,1220.7 540.7,1216.4 545.3,1212.3 549.8,1208.4 554.3,1204.5 558.7,1200.7 563.1,1196.8 567.4,1193 571.6,1189 576.3,1184.3 581.1,1179.4 585.9,1174.4 590.5,1169.4 595,1164.7 599.1,1160.2 602.9,1156.3 606.3,1153 612.5,1148.1 616.6,1145.9 621.2,1141.9 626.1,1135.9 631.5,1128.4 636.8,1120.9 641.1,1114.5 645.9,1106.6 650,1099.6 654.6,1093.4 659.9,1086.6 664.8,1079.8 670,1070.1 676.1,1060 679.9,1055.4 684.5,1050.5 689.4,1045.5 694,1040.8 697.8,1036.7 703.2,1029.9 708.7,1022.6 712.5,1017.8 716.9,1012.1 721.7,1006 726.3,1000.3 730.4,995.4 735.8,989.6 740.5,985.2 745.7,980.2 750.3,975.3 755.3,969.9 760.4,964.5 765.2,959.6 769.7,955.3 774.2,951.5 778.5,947.8 782.6,944.3 788,939.7 793.1,935.4 797.8,931.3 802.8,926.1 808.7,920.4 812.5,917.3 817.1,913.7 822,910 826.6,906.7 830.4,904.1 836,901.5 841.3,899.8 845.5,897.8 850.4,895.4 855.6,893 860.9,891.1 864.8,890.1 868.6,889.4 872.6,888.9 877.1,888.3 882.6,887.4 886.2,886.7 890.2,886 894.5,885.2 899.1,884.3 903.7,883.4 908.3,882.5 912.9,881.7 917.2,880.8 921.2,880 925.9,879.1 930.4,878.3 934.6,877.6 938.8,876.8 942.9,876 947.1,874.9 951.5,873.5 955.5,872 959.4,870.2 963.4,868.2 967.5,866.1 971.6,864 975.8,861.9 980,860 984.4,858.3 988.5,856.9 992.7,855.7 997.2,854.5 1001.6,853.4 1006.1,852.3 1010.5,851.3 1014.7,850.3 1018.7,849.2 1022.4,848.2 1027.4,846.6 1031.8,845 1035.8,843.5 1039.7,842 1043.6,840.6 1047.7,839.3 1051.9,838 1056.1,836.8 1060.4,835.6 1064.6,834.5 1068.8,833.7 1073,833 1077,832.6 1080.8,832.4 1084.6,832.4 1088.6,832.5 1093.1,832.7 1098.3,833 1101.8,833.3 1105.4,833.7 1109.2,834.2 1113.2,834.8 1117.3,835.4 1121.7,835.9 1126.1,836.3 1130.8,836.5 1135.6,836.5 1140.5,836.2 1144.2,835.7 1148.3,835.1 1152.6,834.3 1157,833.3 1161.6,832.3 1166.2,831.1 1170.8,830 1175.4,828.8 1179.9,827.6 1184.2,826.5 1188.3,825.5 1192.1,824.6 1195.6,823.9 1198.7,823.3 1205.4,822.4 1210,822.2 1213.5,822.4 1216.9,822.8 1221.4,823.3 1224.5,823.8 1226.7,824.5 1228.8,825.4 1231.5,826.3 1235.8,827.1 1242.3,827.6 1251.8,827.8 1254.4,827.8 1257.3,827.7 1260.4,827.7 1263.7,827.6 1267.2,827.5 1271,827.4 1274.9,827.3 1278.9,827.1 1283.1,827 1287.4,826.8 1291.8,826.6 1296.3,826.5 1300.9,826.3 1305.6,826.1 1310.3,825.9 1315,825.7 1319.7,825.5 1324.4,825.2 1329,825 1333.7,824.8 1338.3,824.6 1342.8,824.4 1347.2,824.2 1351.5,823.9 1355.6,823.7 1359.7,823.5 1363.6,823.3 1367.3,823.2 1370.8,823 1374.1,822.8 1377.2,822.6 1380,822.5 1387.2,822.1 1393.1,821.5 1398,821 1402.1,820.5 1405.6,820 1408.6,819.5 1411.5,819.1 1414.4,818.8 1417.6,818.6 1421.2,818.6 1425.5,818.7 1429.3,818.9 1433.3,819.3 1437.4,819.8 1441.6,820.4 1445.9,821 1450.2,821.7 1454.6,822.5 1459,823.2 1463.3,824 1467.6,824.8 1471.8,825.6 1475.9,826.3 1479.9,826.9 1483.7,827.5 1488.4,828.2 1492.9,828.7 1497.4,829.3 1501.7,829.8 1506,830.3 1510.1,830.8 1514.2,831.3 1518.1,831.8 1522,832.4 1525.7,833.1 1529.3,833.8 1534,835 1538.4,836.3 1542.5,837.7 1546.5,839.2 1550.4,840.7 1554.2,842.1 1558.1,843.4 1562.1,844.5 1565.9,845.4 1569.1,846.2 1572.1,846.8 1575.3,847.4 1578.8,848 1583.1,848.6 1588.4,849.4 1595,850.3 1598,850.7 1601.2,851.2 1604.7,851.6 1608.4,852.1 1612.4,852.7 1616.5,853.2 1620.7,853.8 1625.1,854.4 1629.6,854.9 1634.1,855.5 1638.7,856.1 1643.2,856.7 1647.8,857.3 1652.3,857.8 1656.7,858.4 1661,858.9 1665.2,859.4 1669.2,859.9 1673,860.3 1676.6,860.7 1680,861.1 1685.3,861.7 1690,862.2 1694.2,862.6 1698.1,863 1701.7,863.4 1705.2,863.7 1708.7,864 1712.3,864.2 1716.2,864.4 1720.4,864.6 1725.2,864.8 1730.6,864.9 1734,865 1737.6,865 1741.3,865 1745.2,865 1749.3,865 1753.5,865 1757.7,864.9 1762.1,864.9 1766.5,864.8 1771,864.7 1775.5,864.7 1780,864.6 1784.5,864.5 1788.9,864.5 1793.4,864.4 1797.7,864.4 1802,864.3 1806.2,864.3 1810.2,864.3 1814.1,864.4 1817.9,864.4 1822.7,864.5 1827.4,864.7 1832,864.9 1836.5,865.1 1841,865.4 1845.3,865.7 1849.6,866 1853.9,866.3 1858,866.6 1862.1,866.9 1866,867.1 1870,867.3 1873.8,867.4 1877.6,867.5 1881.3,867.5 1884.9,867.4 1889.6,867.1 1894.3,866.8 1898.8,866.3 1903.2,865.7 1907.4,865 1911.6,864.3 1915.5,863.6 1919.4,862.8 1923,862 1926.5,861.3 1929.9,860.6 1933,859.9 1938.3,858.6 1942.5,857.3 1946,855.9 1949.5,854.6 1953.4,853.4 1958.3,852.3 1961.8,851.7 1965.5,851.2 1969.4,850.7 1973.5,850.2 1977.7,849.8 1982,849.4 1986.5,849 1991,848.6 1995.5,848.2 2000,847.7 2003.8,847.3 2007.5,846.9 2011.3,846.5 2015.1,846.1 2019,845.6 2022.9,845.2 2026.9,844.8 2031,844.4 2035.2,844 2039.5,843.6 2043.9,843.3 2048.5,843 2052.3,842.8 2056.3,842.5 2060.4,842.3 2064.6,842.1 2069,841.9 2073.4,841.7 2077.8,841.5 2082.2,841.3 2086.7,841.2 2091.1,841 2095.4,840.9 2099.7,840.8 2103.9,840.7 2107.9,840.7 2111.8,840.7 2116.5,840.7 2121,840.8 2125.3,841 2129.6,841.2 2133.8,841.4 2137.9,841.6 2142,841.9 2146,842.2 2150,842.4 2154.1,842.7 2158.2,843 2162.4,843.2 2166.7,843.4 2171.1,843.7 2175.6,843.9 2180.2,844.2 2184.8,844.5 2189.3,844.7 2193.7,845 2198,845.2 2202.1,845.5 2206,845.7 2209.7,846 2213,846.2 2218.5,846.7 2222.7,847.1 2226.2,847.6 2229.6,847.9 2233.4,848.2 2238.3,848.3 2241.9,848.2 2246,848.1 2250.4,847.8 2255,847.5 2259.7,847.2 2264.4,846.9 2268.9,846.6 2273,846.4 2276.8,846.2 2280,846.2 2285,846.7 2287.1,847.7 2295.9,849 2298.7,849.2 2301.8,849.5 2305.4,849.7 2309.2,850 2313.3,850.2 2317.7,850.5 2322.2,850.8 2326.9,851.1 2331.7,851.4 2336.5,851.7 2341.3,851.9 2346.2,852.2 2350.9,852.5 2355.5,852.8 2359.9,853.1 2364.1,853.4 2368.1,853.7 2371.8,854 2376.9,854.4 2381.7,854.9 2386.2,855.3 2390.5,855.8 2394.7,856.2 2398.7,856.7 2402.6,857.1 2406.5,857.6 2410.3,858 2414.3,858.4 2418.3,858.8 2422.4,859.1 2426.7,859.4 2431.1,859.7 2435.6,860 2440.1,860.3 2444.7,860.5 2449.2,860.8 2453.6,861 2457.9,861.2 2462,861.3 2465.9,861.5 2469.6,861.6 2473,861.7 2478.3,861.8 2481.9,861.8 2484.9,861.8 2488.3,861.6 2492.9,861.4 2500,861.1 2503.1,861 2506.5,860.9 2510.3,860.8 2514.3,860.7 2518.6,860.6 2523.1,860.6 2527.7,860.5 2532.5,860.3 2537.3,860.2 2542.1,860.1 2546.9,859.9 2551.6,859.7 2556.2,859.5 2560.6,859.3 2564.9,859 2568.9,858.7 2572.6,858.4 2575.9,858 2581.8,857.1 2586.9,856.2 2591.3,855.1 2595.3,853.9 2599,852.6 2602.6,851.3 2606.1,849.8 2609.8,848.3 2613.8,846.7 2618,845.1 2622.2,843.5 2626.4,841.9 2630.5,840.1 2634.7,838.3 2638.9,836.3 2643.2,834.1 2647.5,831.6 2651.8,828.9 2655.8,826.1 2659.8,823.1 2663.9,819.8 2668.1,816.3 2672.2,812.6 2676.3,809 2680.4,805.3 2684.5,801.6 2688.4,798.1 2692.3,794.8 2696.9,790.8 2701.2,786.8 2705.3,782.9 2709.4,779.1 2713.5,775.3 2717.9,771.6 2722.6,768 2727.7,764.4 2731.5,762 2735.6,759.7 2740,757.3 2744.5,754.9 2749.2,752.5 2753.9,750.2 2758.5,748 2763,745.9 2767.3,743.9 2771.4,741.9 2775,740.2 2778.3,738.6 2784.6,735.5 2789.4,733.3 2793.2,731.5 2796.5,730 2800,728.3 2805.3,725.4 2810,722.7 2815.5,720.2 2819.9,718.6 2824.9,717.1 2830,715.6 2834.8,714.2 2838.8,713.2 2843,712.7 2849.7,711.6 2852.8,710.9 2856.6,710 2860.9,708.9 2865.7,707.8 2870.6,706.6 2875.6,705.3 2880.5,704 2885.2,702.6 2889.5,701.3 2893.2,700 2898.1,697.9 2901.9,695.7 2905.2,693.5 2908.5,691.2 2912.6,688.6 2918,685.9 2921.3,684.4 2924.9,682.8 2928.8,681.1 2932.9,679.4 2937.2,677.6 2941.6,675.7 2946.1,673.9 2950.7,672.1 2955.3,670.4 2959.8,668.7 2964.2,667.1 2968.5,665.6 2972.7,664.2 2977,662.8 2981.3,661.5 2985.6,660.1 2990,658.9 2994.3,657.7 2998.6,656.5 3002.8,655.4 3007,654.4 3011.1,653.4 3015.1,652.5 3019.1,651.7 3023.8,650.9 3028.3,650.3 3032.9,649.8 3037.3,649.4 3041.7,649.1 3046,648.9 3050.2,648.6 3054.3,648.3 3058.2,647.9 3062.1,647.4 3066.7,646.6 3070.9,645.8 3075,644.9 3078.9,643.9 3082.7,643 3086.7,642 3090.7,641.1 3095,640.3 3099.1,639.6 3103.5,638.9 3108,638.2 3112.7,637.5 3117.2,636.8 3121.6,636.2 3125.8,635.7 3129.6,635.2 3133,634.8 3139.3,634.3 3144.2,634.1 3148,634 3150.7,634" fill="none" stroke="#4dfafa" stroke-width="2.4" stroke-linejoin="round" stroke-linecap="round"/>
<polyline points="249.8,1291.7 253.9,1284.2 260,1271.9 264.6,1260.5 269.9,1247.1 275.9,1233.8 280,1226.4 284.4,1219.3 289,1212.1 293.7,1204.6 298.3,1196.5 303,1187.2 307.8,1176.7 312.6,1166.2 316.9,1156.7 320.6,1149.3 326.2,1140.3 330.6,1135.7 334.6,1131.4 339,1127.3 343,1123.2 348,1117 353,1110.8 357,1106.8 361.3,1102.8 365.3,1099.1 370.3,1094.4 375.3,1089.7 379.1,1086.5 383.2,1083 387.7,1078.5 391.6,1073.6 395.8,1067.7 400.1,1062 404.3,1057.4 409.3,1054.1 414.1,1052.2 419.6,1049.8 423.7,1047.4 428.2,1044.6 432.9,1041.7 437.4,1038.9 441.3,1036.7 446,1034.3 449.7,1032.6 454.3,1030.9 458.1,1029.7 462.4,1028.4 467,1027.2 471.3,1025.8 475,1024.3 479.3,1021.9 482.6,1019.1 487,1015 490.8,1011.3 495.2,1006.9 499.9,1002 504.5,997.4 508.7,993.3 513.4,989.2 517.7,985.7 521.9,982.4 526.1,979.1 530.1,975.8 534,972.6 538.2,969.4 543.5,966.1 547.3,964.1 551.8,961.9 556.6,959.7 561.6,957.6 566.3,955.5 570.5,953.6 573.9,952 579.9,949 584.8,945.4 588.6,942.2 593.1,938.1 597.8,933.6 602.5,929.4 606.5,925.9 612,921.9 616.7,919 620.7,916.1 625.3,911.5 629.3,906.3 634.1,899.9 639.1,892.2 645,881.2 650,871.5 653,867.4 656.3,861.4 660.8,853 665.8,843.6 671,834.5 675.7,827 679.9,821.4 683.8,816.9 687.7,812.9 691.7,808.9 696,804.2 699.1,800.2 701.4,796.7 703.8,792.9 707.2,788.4 712.3,782.7 720,775.1 722.9,772.4 726.1,769.5 729.7,766.2 733.6,762.7 737.8,759 742.2,755.1 746.8,751.1 751.6,747 756.4,742.8 761.3,738.6 766.2,734.3 771.1,730.2 776,726 780.7,722 785.3,718.2 789.7,714.5 793.9,711 797.7,707.8 801.3,704.9 804.6,702.3 807.4,700 816.1,693.4 821.2,690.1 824.2,689 826.7,688.8 830.2,688.4 834.7,687.9 839.2,688.2 843.7,688.9 848.3,689.9 853,690.9 857.3,691.8 862,692.9 866.8,694.1 871.3,695.4 875.2,696.4 878.3,697.2 883.2,698.1 886,698.8 889.6,699.7 893.7,700.8 898.2,702 903,703.3 907.9,704.6 912.6,705.8 917.1,706.9 921.2,707.8 926,708.9 930.7,709.9 935.2,710.9 939.6,711.8 943.8,712.5 947.8,713 951.5,713.3 956.1,713.3 960.1,712.8 963.8,712.1 967.6,711.2 971.8,710.3 975.6,709.5 979.4,708.5 983.3,707.4 987.5,706.3 992.1,705.3 997.1,704.5 1000.8,704 1004.7,703.6 1008.8,703.1 1013.1,702.7 1017.5,702.4 1021.9,702.1 1026.3,701.8 1030.7,701.6 1035,701.4 1039.3,701.2 1043.7,701.1 1048.1,701 1052.6,700.9 1057,700.9 1061.3,700.9 1065.4,701.1 1069.3,701.4 1073,701.9 1077.8,702.8 1081.8,703.9 1085.4,705.3 1089.1,707 1093.3,709 1098.3,711.5 1101.9,713.4 1106.1,715.7 1110.6,718.3 1115.3,721 1120.1,723.9 1124.8,726.6 1129.3,729.1 1133.4,731.4 1137,733.1 1140,734.3 1144.7,732.8 1150.6,728.5 1153.5,728.3 1157,728.2 1160.9,728 1165.3,728 1169.9,727.9 1174.7,727.9 1179.5,728 1184.4,728.2 1189,728.4 1193.5,728.8 1197.6,729.2 1201.2,729.7 1206.8,731 1211.9,732.6 1216.7,734.6 1221,736.7 1224.9,738.8 1228.4,740.8 1231.5,742.4 1236.3,746.2 1241.7,750 1244.8,751.4 1248.4,752.9 1252.4,754.6 1256.7,756.3 1261.4,758 1266.4,759.6 1271.7,761.2 1277.1,762.6 1280.7,763.4 1284.6,764.2 1288.8,765 1293.1,765.7 1297.6,766.5 1302.2,767.2 1306.7,767.9 1311.2,768.5 1315.5,769.1 1319.7,769.6 1323.5,770 1327.1,770.4 1330.2,770.7 1336.6,770.9 1341.3,770.6 1345,769.9 1348.7,769.2 1353,768.9 1357,768.9 1360.9,768.9 1365,769.1 1369.4,769.3 1374.3,769.5 1380,769.8 1383.6,770 1387.6,770.1 1391.9,770.2 1396.5,770.3 1401.1,770.5 1405.9,770.7 1410.5,770.9 1415.1,771.2 1419.4,771.5 1423.4,772 1427,772.5 1432.6,773.7 1437.4,775.2 1441.6,776.9 1445.5,778.7 1449.6,780.6 1454,782.5 1458,784.1 1461.8,785.6 1465.7,787.2 1469.7,788.9 1474,790.7 1478.6,792.6 1483.7,794.7 1487.3,796.2 1491.2,797.7 1495.4,799.3 1499.7,800.9 1504.2,802.6 1508.7,804.4 1513.1,806.1 1517.5,808 1521.8,809.8 1525.8,811.7 1529.5,813.6 1534.2,816.3 1538.6,819.3 1542.7,822.3 1546.6,825.4 1550.4,828.5 1554.2,831.4 1558,834.2 1562,836.6 1566,838.8 1570,840.8 1574,842.6 1578,844.3 1582,845.9 1586,847.3 1590.1,848.7 1594.3,850 1598.5,851.1 1602.8,852.1 1607.1,852.9 1611.4,853.6 1615.8,854.3 1620.3,855 1624.8,855.8 1629.5,856.7 1633.3,857.5 1637.3,858.4 1641.3,859.4 1645.5,860.4 1649.6,861.4 1653.7,862.4 1657.9,863.4 1662,864.3 1666,865.3 1670,866.2 1674.3,867.2 1678.5,868.3 1682.6,869.4 1686.7,870.5 1690.7,871.5 1694.8,872.4 1699,873.2 1703.3,873.9 1707.7,874.3 1711.7,874.5 1715.8,874.5 1719.9,874.4 1724,874.1 1728.2,873.8 1732.5,873.4 1736.9,873 1741.4,872.6 1746,872.3 1750.8,872.1 1754.6,872 1758.6,871.8 1762.8,871.7 1767.1,871.6 1771.4,871.5 1775.8,871.4 1780.2,871.3 1784.5,871.2 1788.8,871.1 1793,871.1 1797.1,871 1801.1,871 1804.8,871 1809.4,871 1813.7,871 1817.9,871.1 1821.9,871.1 1825.8,871.2 1829.7,871.3 1833.5,871.4 1837.3,871.6 1841.2,871.8 1845.2,872 1849.3,872.3 1853.4,872.8 1857.6,873.4 1861.7,874.1 1865.9,874.7 1870,875.3 1874.1,875.8 1878.1,876 1882,876 1885.8,875.7 1890.4,874.9 1894.8,873.7 1899,872.2 1903.2,870.4 1907.4,868.5 1911.6,866.5 1915.9,864.4 1920.3,862.4 1924.3,860.5 1928.4,858.4 1932.6,856.2 1936.7,854 1941,851.7 1945.2,849.5 1949.5,847.5 1953.9,845.7 1958.3,844.2 1962.3,843.1 1966.5,842.3 1970.7,841.6 1975,841 1979.3,840.6 1983.6,840.2 1987.8,839.8 1992,839.4 1996,838.9 2000,838.3 2004.8,837.4 2009.6,836.5 2014.4,835.5 2019,834.6 2023.5,833.6 2027.8,832.7 2032,831.8 2035.9,831.1 2040.4,830.2 2044.2,829.4 2047.6,828.8 2051.3,828.2 2055.6,827.7 2061.2,827.3 2064.5,827.1 2068.2,827 2072.1,826.9 2076.2,826.7 2080.5,826.6 2084.9,826.6 2089.4,826.6 2094,826.6 2098.6,826.7 2103.1,826.8 2107.5,827 2111.8,827.3 2116.1,827.7 2120.4,828.2 2124.9,828.7 2129.3,829.4 2133.8,830.1 2138.2,830.8 2142.6,831.5 2146.8,832.3 2151,833 2155,833.7 2158.8,834.3 2162.4,834.9 2167.3,835.6 2171.8,836.3 2175.9,837 2179.8,837.6 2183.6,838.1 2187.3,838.7 2191.2,839.3 2195.3,839.9 2199.5,840.6 2203.6,841.3 2207.6,842.1 2211.8,842.8 2216.1,843.5 2220.6,844.1 2225.4,844.6 2230.7,845 2234.2,845.1 2238,845.2 2241.9,845.1 2246.1,845.1 2250.3,844.9 2254.6,844.8 2259,844.6 2263.3,844.5 2267.6,844.4 2271.7,844.3 2275.8,844.3 2279.6,844.3 2283.2,844.5 2288,844.9 2292.4,845.4 2296.5,845.9 2300.4,846.6 2304.2,847.3 2308.1,848.1 2312.2,848.9 2316.5,849.6 2321.2,850.3 2325,850.8 2329.1,851.3 2333.3,851.8 2337.6,852.3 2342,852.8 2346.5,853.3 2351,853.8 2355.4,854.3 2359.7,854.8 2364,855.4 2368,856 2371.8,856.6 2376.6,857.5 2381.1,858.5 2385.4,859.6 2389.5,860.7 2393.5,861.8 2397.5,862.8 2401.5,863.8 2405.6,864.7 2409.7,865.5 2414,866.2 2418.4,866.7 2422.8,867.2 2427.3,867.7 2431.7,868.1 2436,868.4 2440.1,868.7 2444,869 2447.7,869.3 2452.6,869.7 2457,869.9 2461,870.2 2464.9,870.3 2468.8,870.4 2473,870.5 2476.9,870.6 2480.2,870.7 2483.5,870.7 2487.5,870.7 2492.8,870.5 2500,870.2 2503,870.1 2506.4,869.9 2510.1,869.8 2514.1,869.6 2518.3,869.4 2522.7,869.3 2527.3,869.1 2531.9,868.9 2536.7,868.6 2541.4,868.4 2546,868.1 2550.6,867.8 2555,867.4 2559.3,867.1 2563.3,866.6 2567,866.2 2570.4,865.7 2573.4,865.1 2580.7,863.1 2586.1,860.8 2590.3,858.1 2593.8,855.2 2597.2,852.2 2601.2,849.2 2605.6,846.1 2609.8,842.9 2614,839.5 2618.2,836.1 2622.3,832.5 2626.5,828.9 2630.7,825.4 2634.7,822.2 2638.8,818.8 2643,815.1 2647.3,810.7 2651.8,805.4 2656,799.7 2660.4,793.1 2665,785.8 2669.6,778.3 2674,771 2678.3,764.1 2682.1,758.1 2686.7,751.2 2690.7,745.4 2694.4,740.2 2698.2,734.9 2702.4,729 2706.3,723.3 2710.5,717.1 2714.7,710.7 2719.1,704.5 2723.4,698.9 2727.7,694.1 2732,690.4 2736.3,687.4 2740.6,685 2744.9,682.9 2749.1,680.8 2753,678.4 2757.4,675.3 2761.6,672.1 2765.6,668.9 2769.5,665.8 2773.5,662.8 2777.5,659.8 2781.5,656.8 2785.5,653.9 2789.5,651.1 2793.7,648.4 2798,645.9 2802.4,643.4 2806.8,641.1 2811.3,638.9 2815.7,637 2820.2,635.2 2824.7,633.6 2829.2,632.2 2833.5,631.1 2837.6,630.2 2842.1,629.9 2846.2,630.3 2850.2,630.6 2854.5,630.2 2858.3,629 2862.3,627.2 2866.5,625.2 2870.6,623.3 2874.7,621.8 2878.8,621.1 2882.8,620.8 2886.9,620.6 2890.9,620.1 2895,618.9 2899,616.7 2902.9,613.9 2906.8,610.7 2910.9,607.5 2915.2,604.6 2919.2,602.4 2923.6,600.2 2928.2,598.1 2932.6,596.1 2936.6,594.4 2940,593.1 2945.5,592 2950.8,591 2954.1,589.4 2957.6,587.2 2961.7,584.8 2966.9,582.4 2973.6,580.1 2976.7,579.3 2980.2,578.4 2984,577.5 2988,576.6 2992.3,575.7 2996.7,574.8 3001.1,574 3005.6,573.1 3010.1,572.4 3014.5,571.7 3018.8,571 3022.9,570.5 3026.7,570 3031.5,569.6 3036.2,569.3 3040.9,569.2 3045.5,569.2 3049.9,569.3 3054.3,569.4 3058.4,569.5 3062.4,569.6 3066.2,569.6 3069.7,569.5 3074.9,569.1 3079.4,568.5 3083.5,567.9 3087.2,567.3 3091,566.8 3095,566.5 3099.2,566.4 3103.5,566.5 3107.8,566.8 3112.1,567 3116.2,567.3 3120.3,567.5 3125.4,567.7 3130.7,567.8 3135.7,568 3140,568.1 3143.1,568.2" fill="none" stroke="#ffa75a" stroke-width="2.4" stroke-linejoin="round" stroke-linecap="round"/>
<polyline points="149.2,1291.7 156.6,1250.4 159.1,1238.8 162.9,1220.4 167.9,1196.4 171.7,1177 174,1156.8 177.9,1145.6 183,1133 186.9,1123.9 188.9,1123.2 192.9,1109.2 198.1,1090 202,1075.9 203.9,1074.8 211.3,1040 213.9,1021 219.6,999.9 222.6,993.9 226.3,987.4 230.5,980.6 235.1,973.7 239.7,966.8 244.2,960.3 248.5,954.2 252.2,948.8 257.3,941.5 261.7,935.4 265.8,930.1 269.8,925 274,919.8 278.3,914.6 282.7,909.8 287,905 291.4,900 295.7,894.4 300.2,887.6 304.8,879.8 309.3,872 313.6,865.1 317.5,860 322.6,856.1 326.9,855.6 332,855.6 335.4,855.4 338.8,855.6 342.6,855.9 347.4,856 353.7,855.6 357.1,855.2 361,854.7 365.5,854.1 370.2,853.5 375.2,852.7 380.3,852 385.2,851.2 390,850.5 394.5,849.9 398.5,849.3 401.8,848.8 404.5,848.4 407.6,848.5 411,850.2 415.6,852.7 420.6,855.3 425.3,857.3 429.1,858 432.6,858 436.5,858.3 441.7,859.9 445.1,861.6 449.1,864 453.5,866.9 458.1,869.8 462.7,872.7 467.1,875.2 471.2,877.1 474.6,878.1 479.9,877.6 483.8,874.8 487.3,871.1 491.1,867.4 495.1,864 498.9,860.4 503.2,856.5 508.8,852.3 512.4,849.9 516.5,847.2 521,844.4 525.8,841.5 530.5,838.8 535.1,836.2 539.2,834.1 542.9,832.5 548.4,831.1 552.6,831.4 556.7,831.9 561.9,831.5 565.7,830.7 569.8,829.7 574.3,828.5 578.9,827.2 583.5,825.7 588,823.9 592.3,821.9 597.3,819.1 602.4,815.7 607.5,812 612.2,808.3 616.5,804.8 620.1,801.7 625.5,798 630.2,789 634.2,779 639.1,765.6 644.3,750.8 649.1,736.9 653,725.8 658.1,710.7 662,700 666.2,690.5 671,680.8 675.9,672 680.8,664.8 685.8,658.4 691.1,651.7 695.2,646.2 699.5,640.5 704,634.7 708.8,628.9 713.1,624.1 717.6,619.1 722.4,614.1 727,609.3 731.5,604.9 735.6,600.9 739.6,597.2 743.4,593.8 747.5,590.6 751.8,587.7 755.8,585.5 760.1,583.5 764.5,581.8 768.9,580.1 773.1,578.6 777.1,577.1 781.6,575.5 786,574 790.2,572.7 794,571.3 797.3,570 802.8,566.3 807.4,563.2 811.4,561.7 815.8,560.6 820.1,560.6 824.1,561.7 828.1,563.9 832.7,567 836.7,570 841.1,573.6 845.7,577.7 850.4,582.5 854.4,587 858.5,592 862.8,597.3 866.8,602.7 870.6,607.8 875.9,615.9 880.5,623.9 885.8,631.9 889.3,636.6 892.9,641.2 896.8,645.9 901.1,650.7 906,655.9 909.6,659.5 913.6,663.5 917.9,667.7 922.3,672 926.7,676.1 931.1,680 935.2,683.4 938.9,686.2 944.1,689.7 948.9,692.2 953.3,693.9 957.5,694.9 961.7,695.1 965.9,694.2 970,692.1 973.9,689.5 977.9,686.9 981.9,685 986,683.8 990.2,682.8 994.4,682.1 998.4,681.5 1002.1,681.2 1007.3,681.4 1011.9,682.3 1017.3,682.5 1021.5,681.9 1026.1,681 1031,679.9 1035.7,679.1 1040.1,678.7 1044.9,679.1 1049.4,680.1 1053.7,681.4 1057.8,682.5 1062.7,682.9 1067.3,683.4 1073,686.2 1076.7,689.2 1080.9,693.1 1085.3,697.7 1089.9,702.5 1094.3,707.2 1098.3,711.5 1102.6,716.1 1106.7,720.5 1110.6,724.8 1114.5,729.3 1118.5,734.3 1122.8,740.5 1127.2,747.9 1131.6,755.1 1135.9,760.9 1140,764 1144.8,762.7 1149.3,757.5 1153.8,751.4 1158.2,747.4 1162.5,746.6 1166.8,747.3 1171.1,748.4 1175.9,748.7 1180.3,747.9 1185,746.4 1189.9,744.9 1194.6,743.8 1198.7,743.6 1204.2,745.3 1208.9,748.5 1213.8,752.5 1218.2,756.1 1223,760.3 1227.6,764.7 1231.5,768.9 1234.8,776.3 1240.4,784.1 1243.2,786.1 1246.4,788.3 1250.1,790.7 1254,793 1258.3,795.4 1262.8,797.7 1267.5,799.7 1272.3,801.6 1277.1,803.1 1280.9,804.1 1285.1,804.9 1289.6,805.7 1294.2,806.4 1299,807 1303.7,807.5 1308.4,807.9 1312.9,808.1 1317.2,808.3 1321.2,808.4 1324.7,808.4 1327.7,808.2 1334.6,805.7 1337.6,801.6 1342.9,798 1346.4,797.1 1350.5,796.4 1355,795.8 1359.7,795.2 1364.6,794.7 1369.4,794.2 1374,793.6 1378.3,793 1382.9,792.1 1387.5,791.1 1391.9,790.1 1396.2,789.1 1400.3,788.2 1404.2,787.4 1407.8,787 1413.1,786.6 1417.6,786.5 1421.9,787.2 1427,789 1431,791 1435.3,793.5 1439.8,796.4 1444.5,799.7 1449.3,803.2 1454,806.8 1458.3,810.2 1462.8,814 1467.5,818 1472.2,822 1476.5,825.9 1480.4,829.5 1483.7,832.5 1488.7,839.1 1494.4,844.6 1497.7,846.5 1501.8,848.4 1506.4,850.4 1511.3,852.4 1516.3,854.6 1521.1,856.9 1525.6,859.4 1529.5,862 1534.8,866.7 1539.6,872.1 1543.8,877.6 1547.6,883 1551,887.8 1555.8,897.8 1562,906.6 1565.1,908.8 1568.8,911.2 1573,913.5 1577.5,915.8 1582,917.8 1586.5,919.6 1590.6,921.1 1594.3,922 1599.4,922.3 1604,921.4 1608.2,920 1612.2,918.5 1616,917.5 1620.2,917 1623.8,916.8 1627.6,916.8 1632,917 1635.6,917.3 1639.7,917.7 1644,918.3 1648.3,918.8 1652.5,919.4 1656.3,920 1661.1,920.9 1665.3,921.8 1669.7,922.7 1675,923.4 1678.8,923.7 1683.1,924.1 1687.7,924.4 1692.3,924.6 1696.9,924.7 1701.2,924.6 1705,924.2 1710,922.9 1713.7,920.9 1717.8,918.5 1723.8,916 1727,915 1730.7,913.9 1734.8,912.7 1739.1,911.6 1743.5,910.3 1748,909.1 1752.5,907.8 1756.7,906.6 1760.7,905.3 1764.3,904 1769.6,901.7 1774.3,899.3 1778.7,896.8 1782.8,894.4 1787,892.2 1791.3,890.4 1795.8,889 1800.2,887.8 1804.6,886.8 1809.1,886.1 1813.5,885.5 1818,885 1822.4,884.6 1826.6,884.5 1830.9,884.4 1835.3,884.5 1840,884.7 1845.2,885 1849,885.4 1853.1,885.9 1857.5,886.7 1862,887.4 1866.5,888.1 1871,888.8 1875.3,889.2 1879.3,889.3 1883,889 1888,887.9 1892.5,886.2 1896.6,884.1 1900.5,881.6 1904.1,879 1907.7,876.3 1912.1,872.5 1915.7,868.5 1919.7,863.6 1925.4,857.3 1928.9,853.6 1933,849.3 1937.6,844.5 1942.4,839.4 1947.3,834.3 1952,829.4 1956.4,824.9 1960.2,821.1 1963.3,818.1 1968.9,813.4 1972.6,813.4 1976.3,812.9 1980.9,812.6 1985.8,812.4 1990.8,812.1 1995.4,811.6 1999.6,810.8 2003.7,809.9 2007.7,808.8 2011.7,807.8 2015.7,807 2019.8,806.4 2024.1,805.9 2028.3,805.5 2032.3,805.1 2035.9,804.5 2040.6,802.9 2044.7,801.1 2049.8,800.2 2053.1,800.3 2056.7,800.8 2060.6,801.5 2064.8,802.3 2069.2,803.1 2073.8,803.7 2077.6,804 2081.7,804.3 2086,804.5 2090.5,804.8 2094.9,805 2099.2,805.4 2103.1,805.8 2106.7,806.3 2111.5,807.3 2115.5,808.5 2119.1,809.9 2122.8,811.5 2127,813.4 2131,815.4 2135.3,817.7 2139.7,820.2 2144.1,822.8 2148.3,825.2 2152.3,827.3 2156.6,829.4 2160.6,831.3 2164.5,832.9 2168.4,834.5 2172.5,836.1 2177,837.6 2181.7,839 2186.4,840.3 2191,841.7 2195.3,843.2 2200.1,845.5 2204.6,848.1 2208.9,850.6 2213,852.6 2218,854.8 2222.7,856.5 2228.2,856.9 2232.2,856.2 2236.6,854.8 2241.1,853.1 2245.8,851.5 2250.4,850.3 2254.9,849.6 2259.4,849 2264,848.7 2268.5,848.7 2273.1,849 2277.6,849.8 2282.1,850.9 2286.6,852.3 2291.2,853.8 2295.9,855.3 2300,856.5 2304.1,857.9 2308.4,859.3 2312.7,860.7 2317,861.9 2321.2,862.9 2325.4,863.6 2329.6,864 2333.8,864.3 2338.1,864.5 2342.3,864.9 2346.5,865.5 2350.7,866.2 2354.9,867 2359.2,867.9 2363.4,868.9 2367.6,870.2 2371.8,871.8 2376,874 2380.2,876.8 2384.4,879.8 2388.6,882.7 2392.8,885.2 2397,887 2401.2,887.8 2405.5,888 2409.7,887.8 2413.9,887.3 2418.2,887 2422.4,887 2426.6,887.4 2430.8,888 2435.1,888.7 2439.3,889.4 2443.5,889.8 2447.7,890 2451.9,889.8 2456.1,889.4 2460.3,888.7 2464.6,888 2468.8,887.2 2473,886.5 2477.3,885.8 2481.7,885 2486,884.2 2490.3,883.4 2494.4,882.6 2498.3,881.9 2503.5,880.9 2508.2,879.9 2512.7,879.1 2517.7,878.3 2521.9,877.9 2526.1,877.8 2530.5,877.7 2535.2,877.2 2540.5,876.2 2544.2,875.3 2548.3,874.1 2552.6,872.9 2557,871.5 2561.5,869.9 2565.7,868.2 2569.8,866.4 2573.4,864.4 2578.6,860.8 2583.4,856.7 2587.7,852.2 2591.5,847.7 2594.9,843.4 2600.4,832.8 2605,822.6 2609.2,817.3 2613.7,812.3 2618.9,804.4 2623.4,794.6 2628.4,782.3 2633.4,770.1 2637.9,760.1 2643.1,751.7 2647.8,746 2651.8,740.4 2659.4,721.4 2663.1,710.6 2667.6,696.6 2672.7,681.3 2677.6,666.6 2682.1,654.4 2687.1,642.6 2691.9,633 2696.2,624.8 2699.8,617.7 2707.4,600 2710.8,592.8 2714.9,583.9 2719.5,574.4 2724.2,565.7 2728.8,559 2733.3,554.8 2737.8,552.2 2742.4,550.6 2747,549.3 2751.5,547.7 2756.1,545.7 2760.9,543.9 2765.6,542.2 2769.9,540.5 2773.5,538.8 2778.2,534.8 2783.6,531.2 2787.2,530.1 2791.7,528.9 2796.7,527.8 2801.7,526.9 2806.5,526.1 2810.6,525.6 2815.7,525.5 2820,525.9 2823.9,526.6 2827.5,527.3 2833.7,528.4 2839.3,530.4 2845.3,535 2851.1,539.6 2854.8,541.4 2861.2,542.2 2864.4,542.6 2868.4,543.2 2872.8,543.8 2877.6,544.4 2882.4,544.8 2887.1,545 2891.4,544.8 2895,544.2 2900.4,541.2 2904.5,536.8 2908.3,531.9 2912.9,527.8 2916.8,525.6 2921.3,523.6 2925.9,521.8 2930.4,520.1 2934.6,518.7 2938.2,517.6 2943,516.9 2946.3,517.2 2950.8,516.4 2954.8,514.7 2959.6,512.2 2964.5,509.5 2969.4,507.1 2973.6,505.7 2978.4,505.6 2982.3,506.9 2988.8,508.3 2992.2,508.6 2996.2,508.8 3000.7,509.1 3005.5,509.3 3010.3,509.5 3015.1,509.8 3019.5,510.2 3023.5,510.7 3026.7,511.3 3032.5,513.7 3035.5,516.8 3039.4,520.2 3043.1,522.5 3047.3,525.1 3051.7,527.7 3055.9,529.9 3059.6,531.5 3063.7,532.1 3067,531.4 3072.3,531.5 3075.7,532.2 3079.7,533.1 3084,534.2 3088.7,535.3 3093.4,536.5 3098.1,537.5 3102.6,538.4 3107,539 3111.6,539.5 3116.3,539.8 3120.9,540.2 3125.2,540.5 3129.3,541 3133,541.7 3138.7,543.5 3143.8,545.7 3147.8,547.8 3150.7,549.3" fill="none" stroke="#ff5555" stroke-width="2.4" stroke-linejoin="round" stroke-linecap="round"/>
<g shape-rendering="crispEdges">
<rect x="41" y="1274" width="2" height="26" fill="#1f9d8f"/>
<rect x="37" y="1300" width="10" height="3" fill="#9598a1"/>
<rect x="52" y="1187" width="2" height="113" fill="#ef5350"/>
<rect x="48" y="1300" width="10" height="2" fill="#ef5350"/>
<rect x="64" y="1265" width="2" height="35" fill="#ef5350"/>
<rect x="60" y="1300" width="10" height="2" fill="#ef5350"/>
<rect x="75" y="1247" width="2" height="53" fill="#ef5350"/>
<rect x="71" y="1300" width="10" height="2" fill="#ef5350"/>
<rect x="97" y="1258" width="2" height="42" fill="#1f9d8f"/>
<rect x="93" y="1300" width="10" height="3" fill="#9598a1"/>
<rect x="108" y="1242" width="2" height="58" fill="#1f9d8f"/>
<rect x="104" y="1245" width="10" height="55" fill="#9598a1"/>
<rect x="106" y="1247" width="6" height="51" fill="#26a69a"/>
<rect x="119" y="1075" width="2" height="182" fill="#1f9d8f"/>
<rect x="115" y="1084" width="10" height="160" fill="#9598a1"/>
<rect x="117" y="1086" width="6" height="156" fill="#26a69a"/>
<rect x="130" y="990" width="2" height="114" fill="#1f9d8f"/>
<rect x="126" y="1000" width="10" height="83" fill="#9598a1"/>
<rect x="128" y="1002" width="6" height="79" fill="#26a69a"/>
<rect x="141" y="805" width="2" height="251" fill="#1f9d8f"/>
<rect x="137" y="830" width="10" height="170" fill="#9598a1"/>
<rect x="139" y="832" width="6" height="166" fill="#26a69a"/>
<rect x="152" y="595" width="2" height="278" fill="#1f9d8f"/>
<rect x="148" y="652" width="10" height="178" fill="#9598a1"/>
<rect x="150" y="654" width="6" height="174" fill="#26a69a"/>
<rect x="163" y="582" width="2" height="267" fill="#ef5350"/>
<rect x="159" y="652" width="10" height="85" fill="#ef5350"/>
<rect x="175" y="668" width="2" height="167" fill="#ef5350"/>
<rect x="171" y="737" width="10" height="65" fill="#ef5350"/>
<rect x="186" y="743" width="2" height="142" fill="#ef5350"/>
<rect x="182" y="802" width="10" height="51" fill="#ef5350"/>
<rect x="197" y="756" width="2" height="105" fill="#1f9d8f"/>
<rect x="193" y="772" width="10" height="81" fill="#9598a1"/>
<rect x="195" y="774" width="6" height="77" fill="#26a69a"/>
<rect x="208" y="692" width="2" height="97" fill="#1f9d8f"/>
<rect x="204" y="695" width="10" height="77" fill="#9598a1"/>
<rect x="206" y="697" width="6" height="73" fill="#26a69a"/>
<rect x="219" y="681" width="2" height="65" fill="#ef5350"/>
<rect x="215" y="695" width="10" height="5" fill="#ef5350"/>
<rect x="230" y="696" width="2" height="276" fill="#ef5350"/>
<rect x="226" y="699" width="10" height="169" fill="#ef5350"/>
<rect x="241" y="774" width="2" height="251" fill="#1f9d8f"/>
<rect x="237" y="796" width="10" height="72" fill="#9598a1"/>
<rect x="239" y="798" width="6" height="68" fill="#26a69a"/>
<rect x="252" y="753" width="2" height="106" fill="#1f9d8f"/>
<rect x="248" y="786" width="10" height="10" fill="#9598a1"/>
<rect x="250" y="788" width="6" height="6" fill="#26a69a"/>
<rect x="263" y="747" width="2" height="77" fill="#ef5350"/>
<rect x="259" y="786" width="10" height="24" fill="#ef5350"/>
<rect x="274" y="749" width="2" height="86" fill="#1f9d8f"/>
<rect x="270" y="775" width="10" height="35" fill="#9598a1"/>
<rect x="272" y="777" width="6" height="31" fill="#26a69a"/>
<rect x="286" y="727" width="2" height="76" fill="#ef5350"/>
<rect x="282" y="774" width="10" height="9" fill="#ef5350"/>
<rect x="297" y="752" width="2" height="45" fill="#1f9d8f"/>
<rect x="293" y="764" width="10" height="19" fill="#9598a1"/>
<rect x="295" y="766" width="6" height="15" fill="#26a69a"/>
<rect x="308" y="705" width="2" height="106" fill="#1f9d8f"/>
<rect x="304" y="748" width="10" height="15" fill="#9598a1"/>
<rect x="306" y="750" width="6" height="11" fill="#26a69a"/>
<rect x="319" y="649" width="2" height="117" fill="#1f9d8f"/>
<rect x="315" y="713" width="10" height="35" fill="#9598a1"/>
<rect x="317" y="715" width="6" height="31" fill="#26a69a"/>
<rect x="330" y="703" width="2" height="148" fill="#ef5350"/>
<rect x="326" y="713" width="10" height="111" fill="#ef5350"/>
<rect x="341" y="769" width="2" height="124" fill="#ef5350"/>
<rect x="337" y="824" width="10" height="32" fill="#ef5350"/>
<rect x="352" y="803" width="2" height="190" fill="#1f9d8f"/>
<rect x="348" y="838" width="10" height="18" fill="#9598a1"/>
<rect x="350" y="840" width="6" height="14" fill="#26a69a"/>
<rect x="363" y="789" width="2" height="89" fill="#ef5350"/>
<rect x="359" y="838" width="10" height="18" fill="#ef5350"/>
<rect x="374" y="830" width="2" height="63" fill="#ef5350"/>
<rect x="370" y="854" width="10" height="19" fill="#ef5350"/>
<rect x="385" y="837" width="2" height="69" fill="#1f9d8f"/>
<rect x="381" y="846" width="10" height="26" fill="#9598a1"/>
<rect x="383" y="848" width="6" height="22" fill="#26a69a"/>
<rect x="396" y="805" width="2" height="61" fill="#1f9d8f"/>
<rect x="392" y="818" width="10" height="28" fill="#9598a1"/>
<rect x="394" y="820" width="6" height="24" fill="#26a69a"/>
<rect x="408" y="813" width="2" height="32" fill="#ef5350"/>
<rect x="404" y="817" width="10" height="12" fill="#ef5350"/>
<rect x="419" y="820" width="2" height="89" fill="#ef5350"/>
<rect x="415" y="829" width="10" height="67" fill="#ef5350"/>
<rect x="430" y="856" width="2" height="59" fill="#ef5350"/>
<rect x="426" y="895" width="10" height="4" fill="#ef5350"/>
<rect x="441" y="870" width="2" height="35" fill="#1f9d8f"/>
<rect x="437" y="881" width="10" height="18" fill="#9598a1"/>
<rect x="439" y="883" width="6" height="14" fill="#26a69a"/>
<rect x="452" y="875" width="2" height="62" fill="#ef5350"/>
<rect x="448" y="881" width="10" height="45" fill="#ef5350"/>
<rect x="463" y="896" width="2" height="80" fill="#ef5350"/>
<rect x="459" y="926" width="10" height="17" fill="#ef5350"/>
<rect x="474" y="898" width="2" height="69" fill="#1f9d8f"/>
<rect x="470" y="931" width="10" height="12" fill="#9598a1"/>
<rect x="472" y="933" width="6" height="8" fill="#26a69a"/>
<rect x="485" y="803" width="2" height="130" fill="#1f9d8f"/>
<rect x="481" y="814" width="10" height="117" fill="#9598a1"/>
<rect x="483" y="816" width="6" height="113" fill="#26a69a"/>
<rect x="496" y="760" width="2" height="54" fill="#1f9d8f"/>
<rect x="492" y="783" width="10" height="31" fill="#9598a1"/>
<rect x="494" y="785" width="6" height="27" fill="#26a69a"/>
<rect x="507" y="748" width="2" height="36" fill="#1f9d8f"/>
<rect x="503" y="759" width="10" height="24" fill="#9598a1"/>
<rect x="505" y="761" width="6" height="20" fill="#26a69a"/>
<rect x="519" y="737" width="2" height="46" fill="#ef5350"/>
<rect x="515" y="759" width="10" height="16" fill="#ef5350"/>
<rect x="530" y="771" width="2" height="44" fill="#ef5350"/>
<rect x="526" y="774" width="10" height="10" fill="#ef5350"/>
<rect x="541" y="758" width="2" height="39" fill="#1f9d8f"/>
<rect x="537" y="775" width="10" height="8" fill="#9598a1"/>
<rect x="539" y="777" width="6" height="4" fill="#26a69a"/>
<rect x="552" y="754" width="2" height="93" fill="#ef5350"/>
<rect x="548" y="774" width="10" height="67" fill="#ef5350"/>
<rect x="563" y="784" width="2" height="90" fill="#1f9d8f"/>
<rect x="559" y="796" width="10" height="45" fill="#9598a1"/>
<rect x="561" y="798" width="6" height="41" fill="#26a69a"/>
<rect x="574" y="785" width="2" height="71" fill="#ef5350"/>
<rect x="570" y="796" width="10" height="44" fill="#ef5350"/>
<rect x="585" y="796" width="2" height="56" fill="#1f9d8f"/>
<rect x="581" y="810" width="10" height="30" fill="#9598a1"/>
<rect x="583" y="812" width="6" height="26" fill="#26a69a"/>
<rect x="596" y="698" width="2" height="118" fill="#1f9d8f"/>
<rect x="592" y="710" width="10" height="99" fill="#9598a1"/>
<rect x="594" y="712" width="6" height="95" fill="#26a69a"/>
<rect x="607" y="706" width="2" height="47" fill="#ef5350"/>
<rect x="603" y="709" width="10" height="29" fill="#ef5350"/>
<rect x="618" y="714" width="2" height="99" fill="#1f9d8f"/>
<rect x="614" y="732" width="10" height="6" fill="#9598a1"/>
<rect x="616" y="734" width="6" height="2" fill="#26a69a"/>
<rect x="630" y="660" width="2" height="75" fill="#1f9d8f"/>
<rect x="626" y="673" width="10" height="59" fill="#9598a1"/>
<rect x="628" y="675" width="6" height="55" fill="#26a69a"/>
<rect x="641" y="483" width="2" height="197" fill="#1f9d8f"/>
<rect x="637" y="502" width="10" height="171" fill="#9598a1"/>
<rect x="639" y="504" width="6" height="167" fill="#26a69a"/>
<rect x="652" y="420" width="2" height="157" fill="#1f9d8f"/>
<rect x="648" y="468" width="10" height="33" fill="#9598a1"/>
<rect x="650" y="470" width="6" height="29" fill="#26a69a"/>
<rect x="663" y="433" width="2" height="58" fill="#1f9d8f"/>
<rect x="659" y="454" width="10" height="14" fill="#9598a1"/>
<rect x="661" y="456" width="6" height="10" fill="#26a69a"/>
<rect x="674" y="451" width="2" height="79" fill="#ef5350"/>
<rect x="670" y="453" width="10" height="8" fill="#ef5350"/>
<rect x="685" y="453" width="2" height="159" fill="#ef5350"/>
<rect x="681" y="460" width="10" height="105" fill="#ef5350"/>
<rect x="696" y="429" width="2" height="153" fill="#1f9d8f"/>
<rect x="692" y="514" width="10" height="50" fill="#9598a1"/>
<rect x="694" y="516" width="6" height="46" fill="#26a69a"/>
<rect x="707" y="468" width="2" height="78" fill="#1f9d8f"/>
<rect x="703" y="492" width="10" height="22" fill="#9598a1"/>
<rect x="705" y="494" width="6" height="18" fill="#26a69a"/>
<rect x="718" y="455" width="2" height="53" fill="#1f9d8f"/>
<rect x="714" y="489" width="10" height="3" fill="#9598a1"/>
<rect x="729" y="487" width="2" height="50" fill="#ef5350"/>
<rect x="725" y="489" width="10" height="21" fill="#ef5350"/>
<rect x="741" y="482" width="2" height="49" fill="#ef5350"/>
<rect x="737" y="509" width="10" height="7" fill="#ef5350"/>
<rect x="752" y="501" width="2" height="22" fill="#1f9d8f"/>
<rect x="748" y="513" width="10" height="3" fill="#9598a1"/>
<rect x="763" y="501" width="2" height="45" fill="#ef5350"/>
<rect x="759" y="513" width="10" height="31" fill="#ef5350"/>
<rect x="774" y="530" width="2" height="147" fill="#1f9d8f"/>
<rect x="770" y="532" width="10" height="11" fill="#9598a1"/>
<rect x="772" y="534" width="6" height="7" fill="#26a69a"/>
<rect x="785" y="478" width="2" height="70" fill="#1f9d8f"/>
<rect x="781" y="529" width="10" height="3" fill="#9598a1"/>
<rect x="796" y="504" width="2" height="57" fill="#1f9d8f"/>
<rect x="792" y="526" width="10" height="4" fill="#9598a1"/>
<rect x="807" y="498" width="2" height="35" fill="#1f9d8f"/>
<rect x="803" y="506" width="10" height="20" fill="#9598a1"/>
<rect x="805" y="508" width="6" height="16" fill="#26a69a"/>
<rect x="818" y="505" width="2" height="44" fill="#ef5350"/>
<rect x="814" y="506" width="10" height="32" fill="#ef5350"/>
<rect x="829" y="525" width="2" height="87" fill="#ef5350"/>
<rect x="825" y="537" width="10" height="57" fill="#ef5350"/>
<rect x="840" y="565" width="2" height="192" fill="#ef5350"/>
<rect x="836" y="593" width="10" height="115" fill="#ef5350"/>
<rect x="851" y="629" width="2" height="471" fill="#1f9d8f"/>
<rect x="847" y="660" width="10" height="47" fill="#9598a1"/>
<rect x="849" y="662" width="6" height="43" fill="#26a69a"/>
<rect x="863" y="627" width="2" height="147" fill="#ef5350"/>
<rect x="859" y="660" width="10" height="69" fill="#ef5350"/>
<rect x="874" y="712" width="2" height="97" fill="#ef5350"/>
<rect x="870" y="729" width="10" height="62" fill="#ef5350"/>
<rect x="885" y="753" width="2" height="85" fill="#ef5350"/>
<rect x="881" y="791" width="10" height="25" fill="#ef5350"/>
<rect x="896" y="723" width="2" height="120" fill="#1f9d8f"/>
<rect x="892" y="784" width="10" height="32" fill="#9598a1"/>
<rect x="894" y="786" width="6" height="28" fill="#26a69a"/>
<rect x="907" y="767" width="2" height="38" fill="#1f9d8f"/>
<rect x="903" y="776" width="10" height="8" fill="#9598a1"/>
<rect x="905" y="778" width="6" height="4" fill="#26a69a"/>
<rect x="918" y="737" width="2" height="85" fill="#ef5350"/>
<rect x="914" y="776" width="10" height="10" fill="#ef5350"/>
<rect x="929" y="752" width="2" height="65" fill="#1f9d8f"/>
<rect x="925" y="774" width="10" height="12" fill="#9598a1"/>
<rect x="927" y="776" width="6" height="8" fill="#26a69a"/>
<rect x="940" y="728" width="2" height="68" fill="#ef5350"/>
<rect x="936" y="774" width="10" height="3" fill="#ef5350"/>
<rect x="951" y="742" width="2" height="70" fill="#1f9d8f"/>
<rect x="947" y="752" width="10" height="25" fill="#9598a1"/>
<rect x="949" y="754" width="6" height="21" fill="#26a69a"/>
<rect x="962" y="697" width="2" height="79" fill="#1f9d8f"/>
<rect x="958" y="717" width="10" height="35" fill="#9598a1"/>
<rect x="960" y="719" width="6" height="31" fill="#26a69a"/>
<rect x="974" y="609" width="2" height="119" fill="#1f9d8f"/>
<rect x="970" y="646" width="10" height="71" fill="#9598a1"/>
<rect x="972" y="648" width="6" height="67" fill="#26a69a"/>
<rect x="985" y="610" width="2" height="44" fill="#1f9d8f"/>
<rect x="981" y="637" width="10" height="8" fill="#9598a1"/>
<rect x="983" y="639" width="6" height="4" fill="#26a69a"/>
<rect x="996" y="620" width="2" height="45" fill="#ef5350"/>
<rect x="992" y="636" width="10" height="14" fill="#ef5350"/>
<rect x="1007" y="635" width="2" height="61" fill="#ef5350"/>
<rect x="1003" y="650" width="10" height="27" fill="#ef5350"/>
<rect x="1018" y="672" width="2" height="81" fill="#ef5350"/>
<rect x="1014" y="677" width="10" height="38" fill="#ef5350"/>
<rect x="1029" y="642" width="2" height="92" fill="#1f9d8f"/>
<rect x="1025" y="646" width="10" height="68" fill="#9598a1"/>
<rect x="1027" y="648" width="6" height="64" fill="#26a69a"/>
<rect x="1040" y="641" width="2" height="31" fill="#ef5350"/>
<rect x="1036" y="645" width="10" height="21" fill="#ef5350"/>
<rect x="1051" y="653" width="2" height="83" fill="#ef5350"/>
<rect x="1047" y="666" width="10" height="46" fill="#ef5350"/>
<rect x="1062" y="695" width="2" height="24" fill="#1f9d8f"/>
<rect x="1058" y="710" width="10" height="3" fill="#9598a1"/>
<rect x="1073" y="699" width="2" height="33" fill="#1f9d8f"/>
<rect x="1069" y="708" width="10" height="3" fill="#9598a1"/>
<rect x="1085" y="696" width="2" height="162" fill="#ef5350"/>
<rect x="1081" y="709" width="10" height="129" fill="#ef5350"/>
<rect x="1096" y="798" width="2" height="140" fill="#1f9d8f"/>
<rect x="1092" y="818" width="10" height="20" fill="#9598a1"/>
<rect x="1094" y="820" width="6" height="16" fill="#26a69a"/>
<rect x="1107" y="813" width="2" height="84" fill="#ef5350"/>
<rect x="1103" y="817" width="10" height="58" fill="#ef5350"/>
<rect x="1118" y="847" width="2" height="53" fill="#1f9d8f"/>
<rect x="1114" y="873" width="10" height="3" fill="#9598a1"/>
<rect x="1129" y="873" width="2" height="126" fill="#ef5350"/>
<rect x="1125" y="874" width="10" height="27" fill="#ef5350"/>
<rect x="1140" y="864" width="2" height="47" fill="#1f9d8f"/>
<rect x="1136" y="878" width="10" height="23" fill="#9598a1"/>
<rect x="1138" y="880" width="6" height="19" fill="#26a69a"/>
<rect x="1151" y="550" width="2" height="336" fill="#1f9d8f"/>
<rect x="1147" y="572" width="10" height="306" fill="#9598a1"/>
<rect x="1149" y="574" width="6" height="302" fill="#26a69a"/>
<rect x="1162" y="562" width="2" height="265" fill="#ef5350"/>
<rect x="1158" y="571" width="10" height="218" fill="#ef5350"/>
<rect x="1173" y="724" width="2" height="144" fill="#1f9d8f"/>
<rect x="1169" y="761" width="10" height="28" fill="#9598a1"/>
<rect x="1171" y="763" width="6" height="24" fill="#26a69a"/>
<rect x="1184" y="723" width="2" height="55" fill="#1f9d8f"/>
<rect x="1180" y="741" width="10" height="19" fill="#9598a1"/>
<rect x="1182" y="743" width="6" height="15" fill="#26a69a"/>
<rect x="1196" y="681" width="2" height="71" fill="#1f9d8f"/>
<rect x="1192" y="699" width="10" height="41" fill="#9598a1"/>
<rect x="1194" y="701" width="6" height="37" fill="#26a69a"/>
<rect x="1207" y="691" width="2" height="116" fill="#ef5350"/>
<rect x="1203" y="699" width="10" height="91" fill="#ef5350"/>
<rect x="1218" y="778" width="2" height="49" fill="#ef5350"/>
<rect x="1214" y="789" width="10" height="27" fill="#ef5350"/>
<rect x="1229" y="804" width="2" height="127" fill="#ef5350"/>
<rect x="1225" y="816" width="10" height="87" fill="#ef5350"/>
<rect x="1240" y="845" width="2" height="132" fill="#ef5350"/>
<rect x="1236" y="903" width="10" height="60" fill="#ef5350"/>
<rect x="1251" y="867" width="2" height="160" fill="#1f9d8f"/>
<rect x="1247" y="888" width="10" height="74" fill="#9598a1"/>
<rect x="1249" y="890" width="6" height="70" fill="#26a69a"/>
<rect x="1262" y="838" width="2" height="68" fill="#1f9d8f"/>
<rect x="1258" y="855" width="10" height="33" fill="#9598a1"/>
<rect x="1260" y="857" width="6" height="29" fill="#26a69a"/>
<rect x="1273" y="806" width="2" height="61" fill="#1f9d8f"/>
<rect x="1269" y="850" width="10" height="5" fill="#9598a1"/>
<rect x="1271" y="852" width="6" height="1" fill="#26a69a"/>
<rect x="1284" y="788" width="2" height="68" fill="#1f9d8f"/>
<rect x="1280" y="802" width="10" height="47" fill="#9598a1"/>
<rect x="1282" y="804" width="6" height="43" fill="#26a69a"/>
<rect x="1295" y="751" width="2" height="52" fill="#1f9d8f"/>
<rect x="1291" y="787" width="10" height="15" fill="#9598a1"/>
<rect x="1293" y="789" width="6" height="11" fill="#26a69a"/>
<rect x="1306" y="778" width="2" height="64" fill="#ef5350"/>
<rect x="1302" y="787" width="10" height="43" fill="#ef5350"/>
<rect x="1318" y="792" width="2" height="53" fill="#1f9d8f"/>
<rect x="1314" y="811" width="10" height="19" fill="#9598a1"/>
<rect x="1316" y="813" width="6" height="15" fill="#26a69a"/>
<rect x="1329" y="805" width="2" height="58" fill="#ef5350"/>
<rect x="1325" y="811" width="10" height="24" fill="#ef5350"/>
<rect x="1340" y="703" width="2" height="139" fill="#1f9d8f"/>
<rect x="1336" y="722" width="10" height="112" fill="#9598a1"/>
<rect x="1338" y="724" width="6" height="108" fill="#26a69a"/>
<rect x="1351" y="714" width="2" height="73" fill="#ef5350"/>
<rect x="1347" y="722" width="10" height="46" fill="#ef5350"/>
<rect x="1362" y="754" width="2" height="48" fill="#ef5350"/>
<rect x="1358" y="768" width="10" height="24" fill="#ef5350"/>
<rect x="1373" y="776" width="2" height="25" fill="#ef5350"/>
<rect x="1369" y="792" width="10" height="4" fill="#ef5350"/>
<rect x="1384" y="765" width="2" height="33" fill="#1f9d8f"/>
<rect x="1380" y="767" width="10" height="29" fill="#9598a1"/>
<rect x="1382" y="769" width="6" height="25" fill="#26a69a"/>
<rect x="1395" y="737" width="2" height="40" fill="#1f9d8f"/>
<rect x="1391" y="762" width="10" height="4" fill="#9598a1"/>
<rect x="1406" y="749" width="2" height="30" fill="#ef5350"/>
<rect x="1402" y="761" width="10" height="2" fill="#ef5350"/>
<rect x="1417" y="749" width="2" height="66" fill="#ef5350"/>
<rect x="1413" y="762" width="10" height="44" fill="#ef5350"/>
<rect x="1429" y="787" width="2" height="39" fill="#ef5350"/>
<rect x="1425" y="806" width="10" height="3" fill="#ef5350"/>
<rect x="1440" y="808" width="2" height="87" fill="#ef5350"/>
<rect x="1436" y="809" width="10" height="61" fill="#ef5350"/>
<rect x="1451" y="861" width="2" height="80" fill="#ef5350"/>
<rect x="1447" y="870" width="10" height="35" fill="#ef5350"/>
<rect x="1462" y="867" width="2" height="50" fill="#1f9d8f"/>
<rect x="1458" y="903" width="10" height="3" fill="#9598a1"/>
<rect x="1473" y="902" width="2" height="58" fill="#ef5350"/>
<rect x="1469" y="904" width="10" height="23" fill="#ef5350"/>
<rect x="1484" y="874" width="2" height="66" fill="#1f9d8f"/>
<rect x="1480" y="904" width="10" height="23" fill="#9598a1"/>
<rect x="1482" y="906" width="6" height="19" fill="#26a69a"/>
<rect x="1495" y="858" width="2" height="123" fill="#ef5350"/>
<rect x="1491" y="903" width="10" height="59" fill="#ef5350"/>
<rect x="1506" y="931" width="2" height="62" fill="#1f9d8f"/>
<rect x="1502" y="941" width="10" height="21" fill="#9598a1"/>
<rect x="1504" y="943" width="6" height="17" fill="#26a69a"/>
<rect x="1517" y="892" width="2" height="73" fill="#1f9d8f"/>
<rect x="1513" y="908" width="10" height="33" fill="#9598a1"/>
<rect x="1515" y="910" width="6" height="29" fill="#26a69a"/>
<rect x="1528" y="885" width="2" height="30" fill="#1f9d8f"/>
<rect x="1524" y="902" width="10" height="5" fill="#9598a1"/>
<rect x="1526" y="904" width="6" height="1" fill="#26a69a"/>
<rect x="1540" y="893" width="2" height="155" fill="#ef5350"/>
<rect x="1536" y="901" width="10" height="114" fill="#ef5350"/>
<rect x="1551" y="968" width="2" height="228" fill="#ef5350"/>
<rect x="1547" y="1015" width="10" height="13" fill="#ef5350"/>
<rect x="1562" y="986" width="2" height="110" fill="#ef5350"/>
<rect x="1558" y="1028" width="10" height="57" fill="#ef5350"/>
<rect x="1573" y="927" width="2" height="202" fill="#1f9d8f"/>
<rect x="1569" y="947" width="10" height="138" fill="#9598a1"/>
<rect x="1571" y="949" width="6" height="134" fill="#26a69a"/>
<rect x="1584" y="944" width="2" height="71" fill="#ef5350"/>
<rect x="1580" y="946" width="10" height="45" fill="#ef5350"/>
<rect x="1595" y="940" width="2" height="60" fill="#1f9d8f"/>
<rect x="1591" y="962" width="10" height="29" fill="#9598a1"/>
<rect x="1593" y="964" width="6" height="25" fill="#26a69a"/>
<rect x="1606" y="880" width="2" height="92" fill="#1f9d8f"/>
<rect x="1602" y="894" width="10" height="68" fill="#9598a1"/>
<rect x="1604" y="896" width="6" height="64" fill="#26a69a"/>
<rect x="1617" y="851" width="2" height="81" fill="#ef5350"/>
<rect x="1613" y="894" width="10" height="20" fill="#ef5350"/>
<rect x="1628" y="883" width="2" height="37" fill="#1f9d8f"/>
<rect x="1624" y="910" width="10" height="4" fill="#9598a1"/>
<rect x="1639" y="881" width="2" height="64" fill="#ef5350"/>
<rect x="1635" y="909" width="10" height="21" fill="#ef5350"/>
<rect x="1651" y="908" width="2" height="47" fill="#ef5350"/>
<rect x="1647" y="929" width="10" height="2" fill="#ef5350"/>
<rect x="1662" y="915" width="2" height="31" fill="#ef5350"/>
<rect x="1658" y="931" width="10" height="9" fill="#ef5350"/>
<rect x="1673" y="928" width="2" height="23" fill="#ef5350"/>
<rect x="1669" y="940" width="10" height="2" fill="#ef5350"/>
<rect x="1684" y="924" width="2" height="19" fill="#1f9d8f"/>
<rect x="1680" y="929" width="10" height="12" fill="#9598a1"/>
<rect x="1682" y="931" width="6" height="8" fill="#26a69a"/>
<rect x="1695" y="926" width="2" height="26" fill="#ef5350"/>
<rect x="1691" y="929" width="10" height="4" fill="#ef5350"/>
<rect x="1706" y="902" width="2" height="40" fill="#1f9d8f"/>
<rect x="1702" y="931" width="10" height="3" fill="#9598a1"/>
<rect x="1717" y="850" width="2" height="90" fill="#1f9d8f"/>
<rect x="1713" y="868" width="10" height="62" fill="#9598a1"/>
<rect x="1715" y="870" width="6" height="58" fill="#26a69a"/>
<rect x="1728" y="827" width="2" height="50" fill="#1f9d8f"/>
<rect x="1724" y="865" width="10" height="3" fill="#9598a1"/>
<rect x="1739" y="857" width="2" height="57" fill="#ef5350"/>
<rect x="1735" y="865" width="10" height="7" fill="#ef5350"/>
<rect x="1750" y="865" width="2" height="25" fill="#ef5350"/>
<rect x="1746" y="872" width="10" height="11" fill="#ef5350"/>
<rect x="1761" y="852" width="2" height="31" fill="#1f9d8f"/>
<rect x="1757" y="879" width="10" height="4" fill="#9598a1"/>
<rect x="1773" y="830" width="2" height="64" fill="#1f9d8f"/>
<rect x="1769" y="850" width="10" height="28" fill="#9598a1"/>
<rect x="1771" y="852" width="6" height="24" fill="#26a69a"/>
<rect x="1784" y="799" width="2" height="65" fill="#1f9d8f"/>
<rect x="1780" y="831" width="10" height="18" fill="#9598a1"/>
<rect x="1782" y="833" width="6" height="14" fill="#26a69a"/>
<rect x="1795" y="821" width="2" height="42" fill="#ef5350"/>
<rect x="1791" y="830" width="10" height="27" fill="#ef5350"/>
<rect x="1806" y="846" width="2" height="64" fill="#ef5350"/>
<rect x="1802" y="857" width="10" height="21" fill="#ef5350"/>
<rect x="1817" y="847" width="2" height="33" fill="#1f9d8f"/>
<rect x="1813" y="869" width="10" height="9" fill="#9598a1"/>
<rect x="1815" y="871" width="6" height="5" fill="#26a69a"/>
<rect x="1828" y="854" width="2" height="23" fill="#ef5350"/>
<rect x="1824" y="867" width="10" height="2" fill="#ef5350"/>
<rect x="1839" y="864" width="2" height="20" fill="#ef5350"/>
<rect x="1835" y="869" width="10" height="12" fill="#ef5350"/>
<rect x="1850" y="865" width="2" height="31" fill="#ef5350"/>
<rect x="1846" y="880" width="10" height="16" fill="#ef5350"/>
<rect x="1861" y="874" width="2" height="44" fill="#ef5350"/>
<rect x="1857" y="895" width="10" height="12" fill="#ef5350"/>
<rect x="1872" y="893" width="2" height="40" fill="#1f9d8f"/>
<rect x="1868" y="896" width="10" height="11" fill="#9598a1"/>
<rect x="1870" y="898" width="6" height="7" fill="#26a69a"/>
<rect x="1884" y="887" width="2" height="32" fill="#ef5350"/>
<rect x="1880" y="895" width="10" height="14" fill="#ef5350"/>
<rect x="1895" y="814" width="2" height="100" fill="#1f9d8f"/>
<rect x="1891" y="816" width="10" height="93" fill="#9598a1"/>
<rect x="1893" y="818" width="6" height="89" fill="#26a69a"/>
<rect x="1906" y="770" width="2" height="63" fill="#1f9d8f"/>
<rect x="1902" y="808" width="10" height="7" fill="#9598a1"/>
<rect x="1904" y="810" width="6" height="3" fill="#26a69a"/>
<rect x="1917" y="750" width="2" height="60" fill="#1f9d8f"/>
<rect x="1913" y="752" width="10" height="56" fill="#9598a1"/>
<rect x="1915" y="754" width="6" height="52" fill="#26a69a"/>
<rect x="1928" y="747" width="2" height="67" fill="#ef5350"/>
<rect x="1924" y="752" width="10" height="46" fill="#ef5350"/>
<rect x="1939" y="678" width="2" height="126" fill="#1f9d8f"/>
<rect x="1935" y="723" width="10" height="74" fill="#9598a1"/>
<rect x="1937" y="725" width="6" height="70" fill="#26a69a"/>
<rect x="1950" y="697" width="2" height="77" fill="#1f9d8f"/>
<rect x="1946" y="706" width="10" height="16" fill="#9598a1"/>
<rect x="1948" y="708" width="6" height="12" fill="#26a69a"/>
<rect x="1961" y="679" width="2" height="53" fill="#ef5350"/>
<rect x="1957" y="706" width="10" height="15" fill="#ef5350"/>
<rect x="1972" y="711" width="2" height="93" fill="#ef5350"/>
<rect x="1968" y="719" width="10" height="71" fill="#ef5350"/>
<rect x="1983" y="766" width="2" height="39" fill="#ef5350"/>
<rect x="1979" y="789" width="10" height="3" fill="#ef5350"/>
<rect x="1995" y="788" width="2" height="39" fill="#ef5350"/>
<rect x="1991" y="792" width="10" height="12" fill="#ef5350"/>
<rect x="2006" y="762" width="2" height="51" fill="#1f9d8f"/>
<rect x="2002" y="772" width="10" height="32" fill="#9598a1"/>
<rect x="2004" y="774" width="6" height="28" fill="#26a69a"/>
<rect x="2017" y="765" width="2" height="69" fill="#ef5350"/>
<rect x="2013" y="772" width="10" height="20" fill="#ef5350"/>
<rect x="2028" y="779" width="2" height="41" fill="#ef5350"/>
<rect x="2024" y="792" width="10" height="10" fill="#ef5350"/>
<rect x="2039" y="770" width="2" height="43" fill="#1f9d8f"/>
<rect x="2035" y="786" width="10" height="16" fill="#9598a1"/>
<rect x="2037" y="788" width="6" height="12" fill="#26a69a"/>
<rect x="2050" y="759" width="2" height="29" fill="#1f9d8f"/>
<rect x="2046" y="770" width="10" height="15" fill="#9598a1"/>
<rect x="2048" y="772" width="6" height="11" fill="#26a69a"/>
<rect x="2061" y="749" width="2" height="85" fill="#ef5350"/>
<rect x="2057" y="770" width="10" height="59" fill="#ef5350"/>
<rect x="2072" y="801" width="2" height="33" fill="#1f9d8f"/>
<rect x="2068" y="815" width="10" height="14" fill="#9598a1"/>
<rect x="2070" y="817" width="6" height="10" fill="#26a69a"/>
<rect x="2083" y="808" width="2" height="34" fill="#1f9d8f"/>
<rect x="2079" y="810" width="10" height="4" fill="#9598a1"/>
<rect x="2094" y="801" width="2" height="27" fill="#ef5350"/>
<rect x="2090" y="809" width="10" height="15" fill="#ef5350"/>
<rect x="2106" y="803" width="2" height="38" fill="#1f9d8f"/>
<rect x="2102" y="820" width="10" height="4" fill="#9598a1"/>
<rect x="2117" y="818" width="2" height="43" fill="#ef5350"/>
<rect x="2113" y="820" width="10" height="19" fill="#ef5350"/>
<rect x="2128" y="822" width="2" height="33" fill="#ef5350"/>
<rect x="2124" y="839" width="10" height="15" fill="#ef5350"/>
<rect x="2139" y="849" width="2" height="59" fill="#ef5350"/>
<rect x="2135" y="853" width="10" height="51" fill="#ef5350"/>
<rect x="2150" y="871" width="2" height="61" fill="#1f9d8f"/>
<rect x="2146" y="887" width="10" height="16" fill="#9598a1"/>
<rect x="2148" y="889" width="6" height="12" fill="#26a69a"/>
<rect x="2161" y="880" width="2" height="31" fill="#1f9d8f"/>
<rect x="2157" y="884" width="10" height="3" fill="#9598a1"/>
<rect x="2172" y="872" width="2" height="32" fill="#1f9d8f"/>
<rect x="2168" y="876" width="10" height="8" fill="#9598a1"/>
<rect x="2170" y="878" width="6" height="4" fill="#26a69a"/>
<rect x="2183" y="836" width="2" height="45" fill="#1f9d8f"/>
<rect x="2179" y="854" width="10" height="21" fill="#9598a1"/>
<rect x="2181" y="856" width="6" height="17" fill="#26a69a"/>
<rect x="2194" y="842" width="2" height="33" fill="#ef5350"/>
<rect x="2190" y="853" width="10" height="21" fill="#ef5350"/>
<rect x="2205" y="861" width="2" height="81" fill="#ef5350"/>
<rect x="2201" y="873" width="10" height="53" fill="#ef5350"/>
<rect x="2216" y="878" width="2" height="53" fill="#1f9d8f"/>
<rect x="2212" y="894" width="10" height="32" fill="#9598a1"/>
<rect x="2214" y="896" width="6" height="28" fill="#26a69a"/>
<rect x="2228" y="878" width="2" height="21" fill="#1f9d8f"/>
<rect x="2224" y="886" width="10" height="7" fill="#9598a1"/>
<rect x="2226" y="888" width="6" height="3" fill="#26a69a"/>
<rect x="2239" y="828" width="2" height="61" fill="#1f9d8f"/>
<rect x="2235" y="842" width="10" height="44" fill="#9598a1"/>
<rect x="2237" y="844" width="6" height="40" fill="#26a69a"/>
<rect x="2250" y="814" width="2" height="49" fill="#1f9d8f"/>
<rect x="2246" y="818" width="10" height="24" fill="#9598a1"/>
<rect x="2248" y="820" width="6" height="20" fill="#26a69a"/>
<rect x="2261" y="815" width="2" height="30" fill="#ef5350"/>
<rect x="2257" y="818" width="10" height="6" fill="#ef5350"/>
<rect x="2272" y="810" width="2" height="37" fill="#ef5350"/>
<rect x="2268" y="824" width="10" height="18" fill="#ef5350"/>
<rect x="2283" y="840" width="2" height="48" fill="#ef5350"/>
<rect x="2279" y="841" width="10" height="38" fill="#ef5350"/>
<rect x="2294" y="878" width="2" height="52" fill="#ef5350"/>
<rect x="2290" y="879" width="10" height="21" fill="#ef5350"/>
<rect x="2305" y="883" width="2" height="35" fill="#ef5350"/>
<rect x="2301" y="900" width="10" height="3" fill="#ef5350"/>
<rect x="2316" y="886" width="2" height="17" fill="#1f9d8f"/>
<rect x="2312" y="891" width="10" height="12" fill="#9598a1"/>
<rect x="2314" y="893" width="6" height="8" fill="#26a69a"/>
<rect x="2327" y="811" width="2" height="86" fill="#1f9d8f"/>
<rect x="2323" y="857" width="10" height="33" fill="#9598a1"/>
<rect x="2325" y="859" width="6" height="29" fill="#26a69a"/>
<rect x="2339" y="847" width="2" height="55" fill="#ef5350"/>
<rect x="2335" y="857" width="10" height="37" fill="#ef5350"/>
<rect x="2350" y="883" width="2" height="30" fill="#1f9d8f"/>
<rect x="2346" y="889" width="10" height="4" fill="#9598a1"/>
<rect x="2361" y="881" width="2" height="20" fill="#ef5350"/>
<rect x="2357" y="889" width="10" height="3" fill="#ef5350"/>
<rect x="2372" y="883" width="2" height="47" fill="#ef5350"/>
<rect x="2368" y="892" width="10" height="22" fill="#ef5350"/>
<rect x="2383" y="900" width="2" height="72" fill="#ef5350"/>
<rect x="2379" y="914" width="10" height="28" fill="#ef5350"/>
<rect x="2394" y="927" width="2" height="95" fill="#ef5350"/>
<rect x="2390" y="942" width="10" height="23" fill="#ef5350"/>
<rect x="2405" y="888" width="2" height="106" fill="#1f9d8f"/>
<rect x="2401" y="894" width="10" height="71" fill="#9598a1"/>
<rect x="2403" y="896" width="6" height="67" fill="#26a69a"/>
<rect x="2416" y="866" width="2" height="41" fill="#1f9d8f"/>
<rect x="2412" y="880" width="10" height="14" fill="#9598a1"/>
<rect x="2414" y="882" width="6" height="10" fill="#26a69a"/>
<rect x="2427" y="860" width="2" height="27" fill="#ef5350"/>
<rect x="2423" y="878" width="10" height="2" fill="#ef5350"/>
<rect x="2438" y="869" width="2" height="55" fill="#ef5350"/>
<rect x="2434" y="881" width="10" height="40" fill="#ef5350"/>
<rect x="2450" y="895" width="2" height="43" fill="#1f9d8f"/>
<rect x="2446" y="903" width="10" height="18" fill="#9598a1"/>
<rect x="2448" y="905" width="6" height="14" fill="#26a69a"/>
<rect x="2461" y="870" width="2" height="35" fill="#1f9d8f"/>
<rect x="2457" y="881" width="10" height="21" fill="#9598a1"/>
<rect x="2459" y="883" width="6" height="17" fill="#26a69a"/>
<rect x="2472" y="864" width="2" height="20" fill="#1f9d8f"/>
<rect x="2468" y="871" width="10" height="10" fill="#9598a1"/>
<rect x="2470" y="873" width="6" height="6" fill="#26a69a"/>
<rect x="2483" y="815" width="2" height="74" fill="#1f9d8f"/>
<rect x="2479" y="857" width="10" height="14" fill="#9598a1"/>
<rect x="2481" y="859" width="6" height="10" fill="#26a69a"/>
<rect x="2494" y="850" width="2" height="48" fill="#ef5350"/>
<rect x="2490" y="857" width="10" height="31" fill="#ef5350"/>
<rect x="2505" y="831" width="2" height="62" fill="#1f9d8f"/>
<rect x="2501" y="858" width="10" height="29" fill="#9598a1"/>
<rect x="2503" y="860" width="6" height="25" fill="#26a69a"/>
<rect x="2516" y="821" width="2" height="41" fill="#1f9d8f"/>
<rect x="2512" y="848" width="10" height="10" fill="#9598a1"/>
<rect x="2514" y="850" width="6" height="6" fill="#26a69a"/>
<rect x="2527" y="842" width="2" height="34" fill="#ef5350"/>
<rect x="2523" y="847" width="10" height="17" fill="#ef5350"/>
<rect x="2538" y="858" width="2" height="15" fill="#ef5350"/>
<rect x="2534" y="864" width="10" height="2" fill="#ef5350"/>
<rect x="2549" y="832" width="2" height="37" fill="#1f9d8f"/>
<rect x="2545" y="842" width="10" height="23" fill="#9598a1"/>
<rect x="2547" y="844" width="6" height="19" fill="#26a69a"/>
<rect x="2561" y="803" width="2" height="44" fill="#ef5350"/>
<rect x="2557" y="840" width="10" height="2" fill="#ef5350"/>
<rect x="2572" y="817" width="2" height="33" fill="#1f9d8f"/>
<rect x="2568" y="823" width="10" height="18" fill="#9598a1"/>
<rect x="2570" y="825" width="6" height="14" fill="#26a69a"/>
<rect x="2583" y="770" width="2" height="58" fill="#1f9d8f"/>
<rect x="2579" y="782" width="10" height="41" fill="#9598a1"/>
<rect x="2581" y="784" width="6" height="37" fill="#26a69a"/>
<rect x="2594" y="712" width="2" height="73" fill="#1f9d8f"/>
<rect x="2590" y="721" width="10" height="61" fill="#9598a1"/>
<rect x="2592" y="723" width="6" height="57" fill="#26a69a"/>
<rect x="2605" y="559" width="2" height="176" fill="#1f9d8f"/>
<rect x="2601" y="649" width="10" height="72" fill="#9598a1"/>
<rect x="2603" y="651" width="6" height="68" fill="#26a69a"/>
<rect x="2616" y="605" width="2" height="69" fill="#1f9d8f"/>
<rect x="2612" y="646" width="10" height="3" fill="#9598a1"/>
<rect x="2627" y="587" width="2" height="64" fill="#1f9d8f"/>
<rect x="2623" y="610" width="10" height="36" fill="#9598a1"/>
<rect x="2625" y="612" width="6" height="32" fill="#26a69a"/>
<rect x="2638" y="538" width="2" height="75" fill="#1f9d8f"/>
<rect x="2634" y="565" width="10" height="44" fill="#9598a1"/>
<rect x="2636" y="567" width="6" height="40" fill="#26a69a"/>
<rect x="2649" y="560" width="2" height="61" fill="#ef5350"/>
<rect x="2645" y="565" width="10" height="14" fill="#ef5350"/>
<rect x="2660" y="516" width="2" height="77" fill="#1f9d8f"/>
<rect x="2656" y="538" width="10" height="41" fill="#9598a1"/>
<rect x="2658" y="540" width="6" height="37" fill="#26a69a"/>
<rect x="2671" y="374" width="2" height="179" fill="#1f9d8f"/>
<rect x="2667" y="395" width="10" height="142" fill="#9598a1"/>
<rect x="2669" y="397" width="6" height="138" fill="#26a69a"/>
<rect x="2683" y="342" width="2" height="95" fill="#ef5350"/>
<rect x="2679" y="395" width="10" height="21" fill="#ef5350"/>
<rect x="2694" y="393" width="2" height="40" fill="#1f9d8f"/>
<rect x="2690" y="413" width="10" height="3" fill="#9598a1"/>
<rect x="2705" y="372" width="2" height="52" fill="#1f9d8f"/>
<rect x="2701" y="404" width="10" height="8" fill="#9598a1"/>
<rect x="2703" y="406" width="6" height="4" fill="#26a69a"/>
<rect x="2716" y="345" width="2" height="71" fill="#1f9d8f"/>
<rect x="2712" y="374" width="10" height="29" fill="#9598a1"/>
<rect x="2714" y="376" width="6" height="25" fill="#26a69a"/>
<rect x="2727" y="366" width="2" height="46" fill="#1f9d8f"/>
<rect x="2723" y="373" width="10" height="3" fill="#9598a1"/>
<rect x="2738" y="374" width="2" height="169" fill="#ef5350"/>
<rect x="2734" y="374" width="10" height="114" fill="#ef5350"/>
<rect x="2749" y="462" width="2" height="103" fill="#ef5350"/>
<rect x="2745" y="488" width="10" height="14" fill="#ef5350"/>
<rect x="2760" y="495" width="2" height="55" fill="#ef5350"/>
<rect x="2756" y="500" width="10" height="2" fill="#ef5350"/>
<rect x="2771" y="477" width="2" height="35" fill="#1f9d8f"/>
<rect x="2767" y="494" width="10" height="8" fill="#9598a1"/>
<rect x="2769" y="496" width="6" height="4" fill="#26a69a"/>
<rect x="2782" y="466" width="2" height="30" fill="#1f9d8f"/>
<rect x="2778" y="470" width="10" height="24" fill="#9598a1"/>
<rect x="2780" y="472" width="6" height="20" fill="#26a69a"/>
<rect x="2794" y="441" width="2" height="71" fill="#ef5350"/>
<rect x="2790" y="470" width="10" height="38" fill="#ef5350"/>
<rect x="2805" y="488" width="2" height="43" fill="#1f9d8f"/>
<rect x="2801" y="505" width="10" height="3" fill="#9598a1"/>
<rect x="2816" y="495" width="2" height="55" fill="#ef5350"/>
<rect x="2812" y="506" width="10" height="11" fill="#ef5350"/>
<rect x="2827" y="490" width="2" height="55" fill="#ef5350"/>
<rect x="2823" y="517" width="10" height="26" fill="#ef5350"/>
<rect x="2838" y="530" width="2" height="58" fill="#ef5350"/>
<rect x="2834" y="542" width="10" height="22" fill="#ef5350"/>
<rect x="2849" y="543" width="2" height="102" fill="#ef5350"/>
<rect x="2845" y="563" width="10" height="71" fill="#ef5350"/>
<rect x="2860" y="563" width="2" height="86" fill="#1f9d8f"/>
<rect x="2856" y="568" width="10" height="66" fill="#9598a1"/>
<rect x="2858" y="570" width="6" height="62" fill="#26a69a"/>
<rect x="2871" y="519" width="2" height="55" fill="#1f9d8f"/>
<rect x="2867" y="526" width="10" height="42" fill="#9598a1"/>
<rect x="2869" y="528" width="6" height="38" fill="#26a69a"/>
<rect x="2882" y="513" width="2" height="65" fill="#ef5350"/>
<rect x="2878" y="525" width="10" height="39" fill="#ef5350"/>
<rect x="2893" y="544" width="2" height="40" fill="#1f9d8f"/>
<rect x="2889" y="554" width="10" height="9" fill="#9598a1"/>
<rect x="2891" y="556" width="6" height="5" fill="#26a69a"/>
<rect x="2905" y="440" width="2" height="122" fill="#1f9d8f"/>
<rect x="2901" y="445" width="10" height="108" fill="#9598a1"/>
<rect x="2903" y="447" width="6" height="104" fill="#26a69a"/>
<rect x="2916" y="425" width="2" height="56" fill="#ef5350"/>
<rect x="2912" y="445" width="10" height="10" fill="#ef5350"/>
<rect x="2927" y="436" width="2" height="44" fill="#ef5350"/>
<rect x="2923" y="455" width="10" height="19" fill="#ef5350"/>
<rect x="2938" y="457" width="2" height="40" fill="#ef5350"/>
<rect x="2934" y="474" width="10" height="13" fill="#ef5350"/>
<rect x="2949" y="440" width="2" height="69" fill="#ef5350"/>
<rect x="2945" y="487" width="10" height="19" fill="#ef5350"/>
<rect x="2960" y="448" width="2" height="65" fill="#1f9d8f"/>
<rect x="2956" y="462" width="10" height="44" fill="#9598a1"/>
<rect x="2958" y="464" width="6" height="40" fill="#26a69a"/>
<rect x="2971" y="439" width="2" height="43" fill="#1f9d8f"/>
<rect x="2967" y="460" width="10" height="3" fill="#9598a1"/>
<rect x="2982" y="434" width="2" height="118" fill="#ef5350"/>
<rect x="2978" y="459" width="10" height="65" fill="#ef5350"/>
<rect x="2993" y="501" width="2" height="48" fill="#ef5350"/>
<rect x="2989" y="522" width="10" height="2" fill="#ef5350"/>
<rect x="3004" y="497" width="2" height="27" fill="#1f9d8f"/>
<rect x="3000" y="514" width="10" height="9" fill="#9598a1"/>
<rect x="3002" y="516" width="6" height="5" fill="#26a69a"/>
<rect x="3016" y="500" width="2" height="23" fill="#ef5350"/>
<rect x="3012" y="514" width="10" height="7" fill="#ef5350"/>
<rect x="3027" y="518" width="2" height="52" fill="#ef5350"/>
<rect x="3023" y="520" width="10" height="10" fill="#ef5350"/>
<rect x="3038" y="522" width="2" height="83" fill="#ef5350"/>
<rect x="3034" y="529" width="10" height="72" fill="#ef5350"/>
<rect x="3049" y="554" width="2" height="60" fill="#1f9d8f"/>
<rect x="3045" y="568" width="10" height="32" fill="#9598a1"/>
<rect x="3047" y="570" width="6" height="28" fill="#26a69a"/>
<rect x="3060" y="564" width="2" height="41" fill="#ef5350"/>
<rect x="3056" y="567" width="10" height="37" fill="#ef5350"/>
<rect x="3071" y="514" width="2" height="113" fill="#1f9d8f"/>
<rect x="3067" y="524" width="10" height="80" fill="#9598a1"/>
<rect x="3069" y="526" width="6" height="76" fill="#26a69a"/>
<rect x="3082" y="524" width="2" height="37" fill="#ef5350"/>
<rect x="3078" y="524" width="10" height="9" fill="#ef5350"/>
<rect x="3093" y="506" width="2" height="47" fill="#ef5350"/>
<rect x="3089" y="533" width="10" height="8" fill="#ef5350"/>
<rect x="3104" y="532" width="2" height="81" fill="#ef5350"/>
<rect x="3100" y="541" width="10" height="60" fill="#ef5350"/>
<rect x="3115" y="522" width="2" height="82" fill="#1f9d8f"/>
<rect x="3111" y="546" width="10" height="54" fill="#9598a1"/>
<rect x="3113" y="548" width="6" height="50" fill="#26a69a"/>
<rect x="3126" y="534" width="2" height="28" fill="#ef5350"/>
<rect x="3122" y="546" width="10" height="15" fill="#ef5350"/>
<rect x="3138" y="541" width="2" height="28" fill="#ef5350"/>
<rect x="3134" y="560" width="10" height="2" fill="#ef5350"/>
<rect x="3149" y="558" width="2" height="47" fill="#ef5350"/>
<rect x="3145" y="562" width="10" height="43" fill="#ef5350"/>
</g>
</g>
<text x="3249" y="137.3" font-size="27" fill="#2962ff" textLength="192.5" lengthAdjust="spacingAndGlyphs">1.618 (4.4988)</text>
<text x="3249" y="225.2" font-size="27" fill="#f23645" textLength="192.5" lengthAdjust="spacingAndGlyphs">1.414 (4.1356)</text>
<text x="3249" y="291.1" font-size="27" fill="#ff9800" textLength="192.5" lengthAdjust="spacingAndGlyphs">1.272 (3.8828)</text>
<text x="3249" y="430.2" font-size="27" fill="#787b86" textLength="134" lengthAdjust="spacingAndGlyphs">1 (3.3985)</text>
<text x="3249" y="554.4" font-size="27" fill="#00bcd4" textLength="192.5" lengthAdjust="spacingAndGlyphs">0.786 (3.0175)</text>
<text x="3249" y="663.4" font-size="27" fill="#089981" textLength="192.5" lengthAdjust="spacingAndGlyphs">0.618 (2.7184)</text>
<text x="3249" y="747.3" font-size="27" fill="#4caf50" textLength="162" lengthAdjust="spacingAndGlyphs">0.5 (2.5083)</text>
<text x="3249" y="838.7" font-size="27" fill="#ff9800" textLength="192.5" lengthAdjust="spacingAndGlyphs">0.382 (2.2982)</text>
<text x="3249" y="964.1" font-size="27" fill="#f23645" textLength="192.5" lengthAdjust="spacingAndGlyphs">0.236 (2.0382)</text>
<text x="3249" y="1205.1" font-size="27" fill="#787b86" textLength="135.5" lengthAdjust="spacingAndGlyphs">0 (1.6180)</text>
<text x="45.6" y="115.9" font-size="29" fill="#4a4a4f" textLength="412" lengthAdjust="spacingAndGlyphs">XRP / TetherUS · 1D · BINANCE</text>
<text x="477.7" y="115.9" font-size="29" fill="#4a4a4f">O</text>
<text x="497.5" y="115.9" font-size="29" fill="#ef5350" textLength="88.5" lengthAdjust="spacingAndGlyphs">2.9665</text>
<text x="606.8" y="115.9" font-size="29" fill="#4a4a4f">H</text>
<text x="626.7" y="115.9" font-size="29" fill="#ef5350" textLength="87.5" lengthAdjust="spacingAndGlyphs">2.9768</text>
<text x="735.3" y="115.9" font-size="29" fill="#4a4a4f">L</text>
<text x="750.9" y="115.9" font-size="29" fill="#ef5350" textLength="87.5" lengthAdjust="spacingAndGlyphs">2.8436</text>
<text x="857.8" y="115.9" font-size="29" fill="#4a4a4f">C</text>
<text x="876.1" y="115.9" font-size="29" fill="#ef5350" textLength="85.3" lengthAdjust="spacingAndGlyphs">2.8461</text>
<text x="985.5" y="115.9" font-size="29" fill="#ef5350" textLength="102.5" lengthAdjust="spacingAndGlyphs">−0.1204</text>
<text x="1101.2" y="115.9" font-size="29" fill="#ef5350" textLength="109.8" lengthAdjust="spacingAndGlyphs">(−4.06%)</text>
<text x="45.6" y="157.8" font-size="29" fill="#4a4a4f" textLength="119.3" lengthAdjust="spacingAndGlyphs">Vol · XRP</text>
<text x="184.2" y="157.8" font-size="29" fill="#ef5350" textLength="101.3" lengthAdjust="spacingAndGlyphs">61.19 M</text>
<text x="45.6" y="199.8" font-size="29" fill="#4a4a4f" textLength="268.4" lengthAdjust="spacingAndGlyphs">EMA 20/50/100/200</text>
<text x="334.5" y="199.8" font-size="29" fill="#ff0000" textLength="87.3" lengthAdjust="spacingAndGlyphs">3.0028</text>
<text x="442" y="199.8" font-size="29" fill="#ff7f00" textLength="88" lengthAdjust="spacingAndGlyphs">2.9468</text>
<text x="550.6" y="199.8" font-size="29" fill="#00ffff" textLength="86.1" lengthAdjust="spacingAndGlyphs">2.7681</text>
<text x="658.1" y="199.8" font-size="29" fill="#0000ff" textLength="88.5" lengthAdjust="spacingAndGlyphs">2.4995</text>
<g clip-path="url(#rsi)">
<rect x="25" y="1334" width="3429" height="97" fill="rgba(126,87,194,0.1)"/>
<polygon points="20,1333.5 20,1313 25.6,1311.7 43.3,1304 52.6,1304.9 66.6,1311.7 86.8,1316.4 103.9,1313.3 119.4,1306.1 131.8,1304 152,1298.7 169.1,1318 181.5,1330.4 193.9,1326.6 209.4,1323.5 220.3,1323.5 223.9,1333.5" fill="url(#gfill)"/>
<polygon points="637.8,1333.5 642.7,1326.6 655.1,1323.5 664.4,1322.6 675.3,1324.8 678.7,1333.5" fill="url(#gfill)"/>
<polygon points="2591.4,1333.5 2594.1,1331 2605.6,1320.4 2617.4,1320.4 2628.3,1316.4 2637.6,1313.3 2650,1318.6 2660.9,1314.2 2672.7,1307.1 2682.6,1313.3 2693.5,1313.3 2704.3,1312.7 2716.8,1310.8 2727.6,1310.8 2733.9,1333.5" fill="url(#gfill)"/>
<line x1="25" y1="1333.5" x2="3454" y2="1333.5" stroke="#787b86" stroke-width="2" stroke-dasharray="10 12"/>
<line x1="25" y1="1372.5" x2="3454" y2="1372.5" stroke="#b2b5be" stroke-width="2" stroke-dasharray="10 12"/>
<line x1="25" y1="1432" x2="3454" y2="1432" stroke="#787b86" stroke-width="2" stroke-dasharray="10 12"/>
<polyline points="25.6,1320.1 69.7,1311.1 122.5,1310.2 159.8,1308.6 175.3,1310.2 218.8,1314.8 256,1322.6 293.3,1330.4 330.6,1340.6 377.1,1350.6 439.3,1358.9 475,1367.6 516.9,1365.5 548,1363.6 579,1363.9 616.3,1358.3 672.2,1346.5 718.8,1340.6 743.6,1338.8 780.9,1339.7 800,1342.2 820.2,1345.9 849.7,1354.6 883.9,1368.6 918,1380.7 942.9,1389.4 964.6,1395.6 986.3,1395 1017.4,1389.4 1042.2,1382.5 1073.3,1379.1 1098.1,1379.1 1123,1383.2 1141.6,1390 1154,1388.8 1188.2,1388.8 1228.6,1389.4 1265.8,1386.3 1293.8,1379.4 1309.3,1381.6 1374.5,1379.4 1408.7,1373.2 1436.6,1373.2 1483.2,1380.1 1529.8,1388.8 1564,1398.1 1600,1398.7 1631.1,1392.5 1662.1,1388.4 1683.9,1387.2 1711.8,1381 1721.1,1377.9 1739.8,1373.9 1773.9,1371.4 1801.9,1367.6 1826.7,1364.5 1864,1365.2 1895,1367.6 1919.9,1363 1966.5,1356.8 1997.5,1356.1 2019.3,1354.3 2041,1352.7 2072,1357.7 2115.5,1369.2 2168.3,1380.1 2205.6,1385.7 2236.6,1387.8 2283.2,1383.8 2329.8,1381 2367,1380.1 2400,1384.7 2415.5,1386.3 2438.8,1386.9 2462.1,1383.8 2493.2,1381 2524.2,1376.3 2549.1,1370.7 2573.9,1367.6 2592.5,1362 2611.2,1354.6 2636,1345.3 2664,1336 2688.8,1327.9 2710.6,1322 2729.2,1317.3 2747.8,1318.6 2772.7,1322 2797.5,1327.3 2825.5,1336 2859.6,1351.5 2884.5,1361.4 2915.5,1363 2946.6,1364.5 2990,1365.2 3008.7,1363 3047.5,1366.1 3061.5,1370.1 3098.8,1374.5 3123.6,1378.5 3150.9,1380.1" fill="none" stroke="#ffeb3b" stroke-width="2.6" stroke-linejoin="round" stroke-linecap="round"/>
<polyline points="20,1313 25.6,1311.7 43.3,1304 52.6,1304.9 66.6,1311.7 86.8,1316.4 103.9,1313.3 119.4,1306.1 131.8,1304 152,1298.7 169.1,1318 181.5,1330.4 193.9,1326.6 209.4,1323.5 220.3,1323.5 229.6,1349 242,1344.3 252.9,1343.4 265.3,1346.8 277.8,1341.2 287.1,1345.9 299.5,1342.8 318.1,1338.1 329,1356.8 343,1363 353.9,1360.8 374,1366.7 397.3,1357.7 408.2,1360.8 419.1,1373.2 431.5,1374.5 442.4,1370.7 453.2,1380.1 465.7,1383.2 475.9,1380.7 487.4,1356.8 506,1349 529.3,1354.6 543.3,1352.7 552.6,1370.1 565,1359.9 575.9,1370.7 597.6,1347.5 608.5,1354.6 619.4,1353 630.2,1344.3 642.7,1326.6 655.1,1323.5 664.4,1322.6 675.3,1324.8 684.6,1348.4 697,1342.8 707.9,1339.7 718.8,1339.7 729.6,1344.3 740.5,1345.9 751.4,1345.9 762.2,1353.7 774.6,1351.5 796.4,1350.6 807.3,1346.8 820.2,1356.8 829.5,1372.3 841.9,1401.8 852.2,1387.2 862.1,1401.2 874.5,1413.3 884.8,1418 897.2,1407.1 907.1,1404.3 919.6,1406.5 929.8,1401.8 940.4,1402.7 951.2,1394 962.1,1382.2 974.8,1363.6 985.4,1361.7 997.2,1365.2 1008.1,1372.9 1019.9,1382.5 1029.8,1364.5 1040.7,1370.7 1053.1,1381.6 1064,1381 1074.8,1380.7 1085.1,1412 1097.5,1404.9 1107.5,1416.4 1117.4,1416.4 1129.8,1422 1140.7,1412.7 1152.5,1346.5 1162.4,1380.7 1174.2,1376.3 1185.1,1373.2 1197.5,1367.6 1207.8,1380.7 1217.7,1384.7 1229.5,1395 1239.4,1402.4 1250.3,1390.9 1261.8,1384.1 1274.2,1382.5 1285.1,1375.4 1295.3,1372.9 1306.8,1379.4 1317.7,1376.3 1329.5,1380.1 1339.8,1361.7 1352.2,1369.2 1363.7,1373.9 1376.1,1374.5 1385.4,1369.2 1396.3,1367.9 1407.1,1368.3 1417.1,1377.9 1428.9,1378.5 1440.4,1391.2 1451.6,1398.1 1463,1398.1 1473.3,1403.4 1484.8,1395.6 1495.7,1408 1506.5,1400.9 1516.8,1390 1529.2,1388.4 1540.1,1412.7 1551.6,1415.2 1563,1426 1572.7,1384.7 1584.8,1392.5 1600,1381.6 1607.8,1371.4 1618.6,1375.7 1630.1,1374.8 1640.4,1379.4 1651.2,1379.4 1662.1,1381 1672.4,1381.9 1683.9,1377.9 1695.7,1379.1 1707.1,1378.5 1718,1360.5 1730.4,1359.9 1739.8,1362.4 1750.6,1366.1 1762.4,1364.5 1773.3,1356.1 1785.4,1350.9 1795.7,1360.8 1808.1,1369.2 1818.3,1365.2 1827.6,1366.1 1839.1,1370.7 1850.9,1377.6 1863,1382.2 1872.7,1376 1885.1,1382.2 1895,1349 1907.5,1347.5 1917.4,1336 1927.6,1352.1 1940.7,1338.1 1950,1336 1962.4,1340.3 1972.7,1362 1984.5,1363 1995.3,1366.7 2006.8,1357.7 2017.7,1364.5 2028.6,1367.6 2040.4,1363 2050.3,1358.3 2062.7,1378.5 2073.6,1373.2 2085.1,1371.7 2095.3,1377 2106.2,1375.7 2117.1,1382.5 2127.9,1388.8 2140.4,1405.8 2150.3,1397.1 2161.5,1395.6 2173,1390.9 2184.5,1380.1 2194.7,1387.8 2205.6,1407.4 2218,1390 2228.9,1386.3 2240.4,1370.1 2250.6,1362 2263,1364.5 2273.3,1371.4 2283.2,1384.7 2295.7,1391.9 2305.6,1393.4 2317.4,1387.2 2327.6,1372.3 2340.1,1386.3 2350.9,1383.8 2362.4,1384.7 2373.3,1394 2384.2,1404.3 2395.6,1412 2405.6,1377.9 2417.1,1372.3 2428.6,1373.2 2440.4,1386.9 2460.6,1371.4 2471.4,1368.3 2482.3,1363.3 2494.7,1374.5 2505.6,1364.5 2517.4,1360.8 2528,1367.6 2539.8,1368.3 2550.6,1359.3 2559.9,1359.3 2572.4,1353 2583.2,1341.2 2594.1,1331 2605.6,1320.4 2617.4,1320.4 2628.3,1316.4 2637.6,1313.3 2650,1318.6 2660.9,1314.2 2672.7,1307.1 2682.6,1313.3 2693.5,1313.3 2704.3,1312.7 2716.8,1310.8 2727.6,1310.8 2737.6,1346.8 2749.4,1349.9 2760.2,1350.6 2771.7,1348.4 2782.6,1345 2794.4,1356.1 2805.3,1356.1 2816.1,1359.9 2827,1367.6 2837.9,1375.4 2850.3,1396.5 2861.2,1373.9 2872.7,1363.6 2882.9,1373.9 2894.4,1371.4 2905.3,1348.4 2916.1,1352.1 2927.9,1356.8 2938.8,1360.8 2949.7,1365.2 2960.6,1355.2 2972,1355.2 2982.3,1373.2 2993.8,1373.2 3005,1370.7 3016.5,1372.6 3027.3,1375.4 3038.2,1396.5 3049.7,1384.7 3060.6,1394 3072.4,1370.7 3082.6,1372.3 3093.5,1375.4 3105,1390.9 3115.8,1374.8 3126.7,1378.5 3138.5,1380.1 3150.9,1390.3" fill="none" stroke="#7e57c2" stroke-width="2.6" stroke-linejoin="round" stroke-linecap="round"/>
</g>
<text x="45.5" y="1344.3" font-size="29" fill="#4a4a4f" textLength="188.8" lengthAdjust="spacingAndGlyphs">RSI (14, close)</text>
<text x="256" y="1344.3" font-size="29" fill="#7e57c2" textLength="71.5" lengthAdjust="spacingAndGlyphs">42.97</text>
<text x="347.6" y="1344.3" font-size="29" fill="#ffeb3b" textLength="73" lengthAdjust="spacingAndGlyphs">47.06</text>
<text x="444" y="1344.3" font-size="29" fill="#4a4a4f" textLength="21.7" lengthAdjust="spacingAndGlyphs">∅</text>
<text x="490.5" y="1344.3" font-size="29" fill="#4a4a4f" textLength="21.7" lengthAdjust="spacingAndGlyphs">∅</text>
<rect x="3453" y="67" width="2" height="1453" fill="#434343" shape-rendering="crispEdges"/>
<rect x="25" y="1450" width="3578" height="2" fill="#434343" shape-rendering="crispEdges"/>
<rect x="25" y="1293" width="3578" height="2" fill="#dcdfe8" shape-rendering="crispEdges"/>
<text x="3475" y="208.1" font-size="26.5" fill="#4a4a4f">4.2000</text>
<text x="3475" y="312.6" font-size="26.5" fill="#4a4a4f">3.8000</text>
<text x="3475" y="428.7" font-size="26.5" fill="#4a4a4f">3.4000</text>
<text x="3475" y="559.4" font-size="26.5" fill="#4a4a4f">3.0000</text>
<text x="3475" y="708.9" font-size="26.5" fill="#4a4a4f">2.6000</text>
<text x="3475" y="792.4" font-size="26.5" fill="#4a4a4f">2.4000</text>
<text x="3475" y="883.3" font-size="26.5" fill="#4a4a4f">2.2000</text>
<text x="3475" y="957" font-size="26.5" fill="#4a4a4f">2.0500</text>
<text x="3475" y="1036.4" font-size="26.5" fill="#4a4a4f">1.9000</text>
<text x="3475" y="1122.2" font-size="26.5" fill="#4a4a4f">1.7500</text>
<text x="3475" y="1196.4" font-size="26.5" fill="#4a4a4f">1.6300</text>
<text x="3475" y="1269.4" font-size="26.5" fill="#4a4a4f">1.5200</text>
<text x="3475.5" y="1329" font-size="26.5" fill="#4a4a4f">80.00</text>
<text x="3475.5" y="1442.5" font-size="26.5" fill="#4a4a4f">30.00</text>
<rect x="3463" y="76.5" width="130" height="64.5" rx="9" fill="#ffffff" stroke="#e6e8ee" stroke-width="1.5"/>
<text x="3487" y="118.3" font-size="29" fill="#131722" textLength="69" lengthAdjust="spacingAndGlyphs">USDT</text>
<path d="M3326,585.3 H3454 V624.5 H3326 a4,4 0 0 1 -4,-4 V589.3 a4,4 0 0 1 4,-4 Z" fill="#ef5350"/>
<path d="M3454,585.3 H3588 a4,4 0 0 1 4,4 V653 a4,4 0 0 1 -4,4 H3454 Z" fill="#ef5350"/>
<text x="3333.6" y="614.8" font-size="27" fill="#ffffff" textLength="108" lengthAdjust="spacingAndGlyphs">XRPUSDT</text>
<text x="3475.3" y="614.8" font-size="27" fill="#ffffff" textLength="78.7" lengthAdjust="spacingAndGlyphs">2.8461</text>
<text x="3476" y="646.5" font-size="27" fill="#fde3e3" textLength="103.5" lengthAdjust="spacingAndGlyphs">14:53:36</text>
<text x="141.8" y="1495.1" font-size="26" fill="#4a4a4f" text-anchor="middle">Dec</text>
<text x="829.8" y="1495.1" font-size="26" fill="#4a4a4f" text-anchor="middle">Feb</text>
<text x="1140.5" y="1495.1" font-size="26" fill="#4a4a4f" text-anchor="middle">Mar</text>
<text x="1484.5" y="1495.1" font-size="26" fill="#4a4a4f" text-anchor="middle">Apr</text>
<text x="1817.5" y="1495.1" font-size="26" fill="#4a4a4f" text-anchor="middle">May</text>
<text x="2161.5" y="1495.1" font-size="26" fill="#4a4a4f" text-anchor="middle">Jun</text>
<text x="2494.4" y="1495.1" font-size="26" fill="#4a4a4f" text-anchor="middle">Jul</text>
<text x="2838.4" y="1495.1" font-size="26" fill="#4a4a4f" text-anchor="middle">Aug</text>
<text x="3182.5" y="1495.1" font-size="26" fill="#4a4a4f" text-anchor="middle">Sep</text>
<text x="485.8" y="1495.1" font-size="26" font-weight="bold" fill="#4a4a4f" text-anchor="middle">2025</text>
<g fill="#131313">
<path d="M30,1575 H60 V1612.2 H45 V1590.2 H30 Z"/>
<circle cx="72.5" cy="1582.5" r="7.4"/>
<path d="M87.7,1575 H104.8 L90.1,1612.2 H72.7 Z"/>
</g>
<text x="122" y="1612.2" font-size="51" font-weight="bold" fill="#131313" textLength="303" lengthAdjust="spacingAndGlyphs">TradingView</text>
</svg></body></html>
